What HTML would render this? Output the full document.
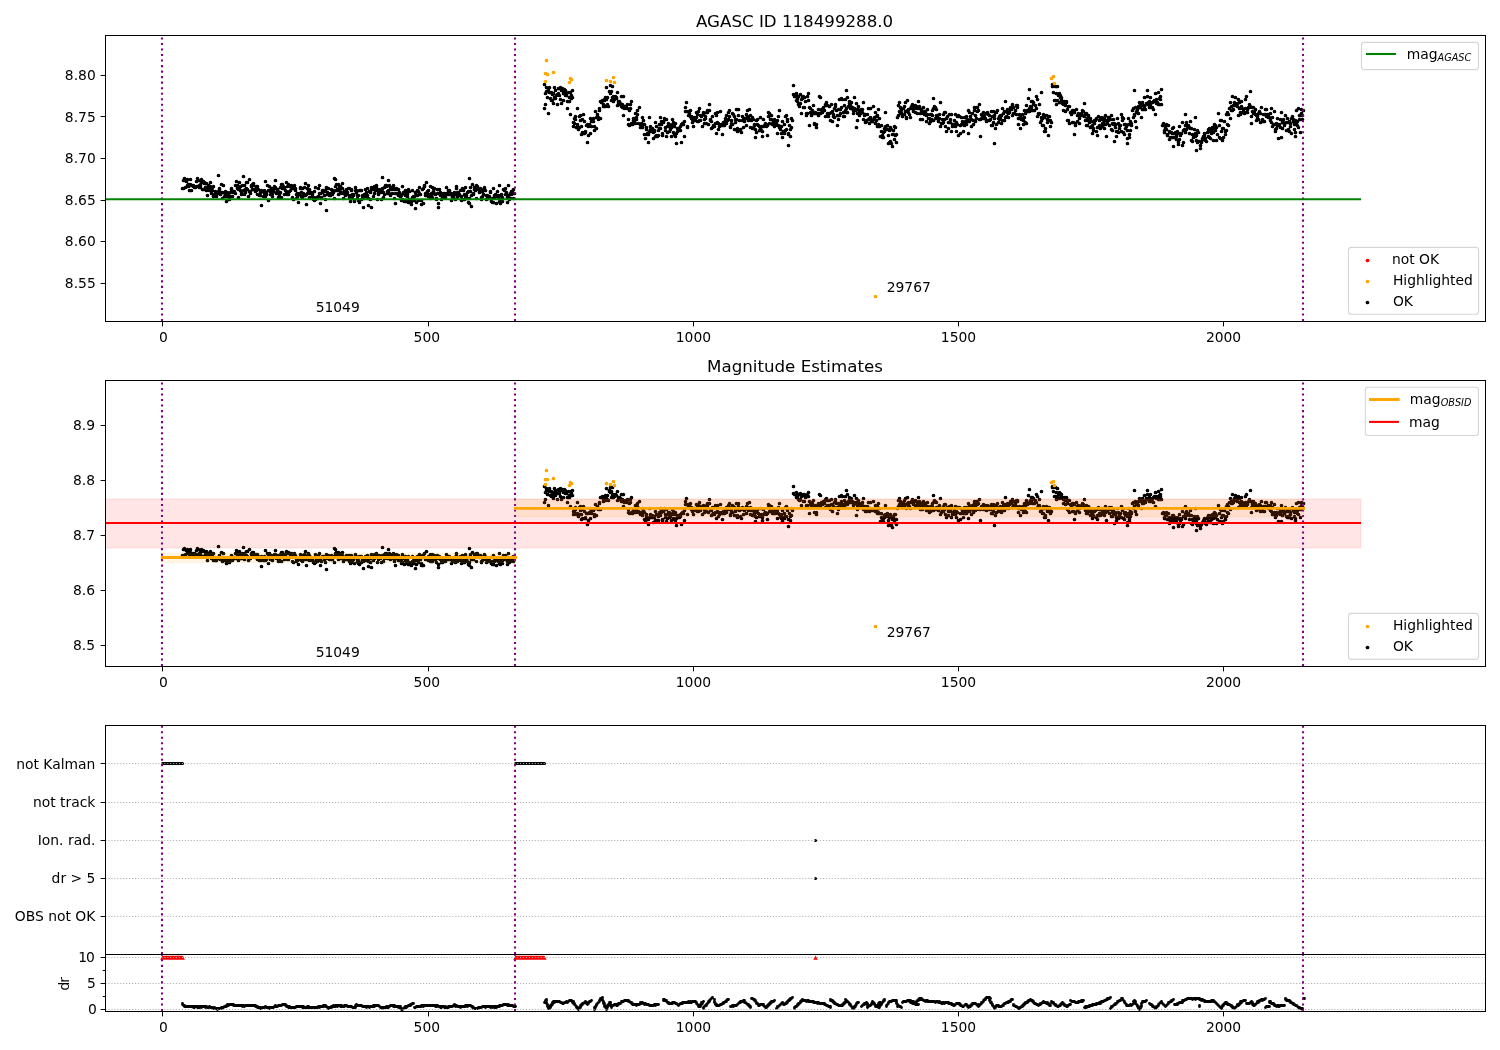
<!DOCTYPE html>
<html lang="en">
<head>
<meta charset="utf-8">
<title>AGASC ID 118499288.0</title>
<style>html,body{margin:0;padding:0;background:#fff;overflow:hidden}svg{display:block}</style>
</head>
<body>
<svg width="1500" height="1050" viewBox="0 0 1500 1050" font-family='"DejaVu Sans","Liberation Sans",sans-serif' font-size="13.889" fill="#000" role="img" aria-label="AGASC ID 118499288.0 magnitude estimates">
<rect width="1500" height="1050" fill="#fff"/>
<clipPath id="c1"><rect x="105.5" y="35.5" width="1380" height="286"/></clipPath>
<clipPath id="c2"><rect x="105.5" y="380.5" width="1380" height="286"/></clipPath>
<clipPath id="c3"><rect x="105.5" y="954.5" width="1380" height="57"/></clipPath>
<g clip-path="url(#c1)">
<path d="M182.5 188.5h0M183.5 188.5h0M183.5 180.5h0M184.5 179.5h0M184.5 178.5h0M185.5 187.5h0M186.5 181.5h0M187.5 179.5h0M187.5 185.5h0M188.5 186.5h0M188.5 184.5h0M189.5 190.5h0M189.5 184.5h0M190.5 184.5h0M190.5 179.5h0M191.5 185.5h0M191.5 190.5h0M192.5 185.5h0M193.5 185.5h0M193.5 186.5h0M194.5 186.5h0M194.5 187.5h0M195.5 187.5h0M196.5 181.5h0M196.5 186.5h0M197.5 178.5h0M197.5 186.5h0M198.5 180.5h0M199.5 185.5h0M199.5 187.5h0M200.5 184.5h0M200.5 186.5h0M201.5 179.5h0M201.5 182.5h0M202.5 189.5h0M202.5 181.5h0M203.5 189.5h0M203.5 181.5h0M204.5 183.5h0M204.5 182.5h0M205.5 187.5h0M206.5 190.5h0M206.5 183.5h0M207.5 187.5h0M207.5 195.5h0M208.5 187.5h0M208.5 185.5h0M209.5 190.5h0M209.5 188.5h0M210.5 186.5h0M210.5 182.5h0M211.5 193.5h0M212.5 187.5h0M212.5 190.5h0M213.5 186.5h0M213.5 196.5h0M214.5 194.5h0M214.5 195.5h0M215.5 191.5h0M215.5 194.5h0M216.5 196.5h0M217.5 193.5h0M218.5 192.5h0M218.5 191.5h0M219.5 189.5h0M219.5 188.5h0M220.5 194.5h0M220.5 192.5h0M221.5 184.5h0M221.5 192.5h0M222.5 198.5h0M222.5 192.5h0M223.5 185.5h0M224.5 192.5h0M224.5 196.5h0M225.5 194.5h0M225.5 191.5h0M226.5 201.5h0M227.5 192.5h0M227.5 196.5h0M228.5 194.5h0M228.5 196.5h0M229.5 199.5h0M230.5 196.5h0M230.5 192.5h0M231.5 189.5h0M231.5 188.5h0M232.5 191.5h0M232.5 196.5h0M233.5 192.5h0M233.5 191.5h0M234.5 192.5h0M234.5 191.5h0M235.5 193.5h0M235.5 185.5h0M236.5 181.5h0M237.5 188.5h0M237.5 185.5h0M238.5 197.5h0M238.5 189.5h0M239.5 188.5h0M239.5 182.5h0M240.5 190.5h0M240.5 186.5h0M241.5 194.5h0M241.5 192.5h0M242.5 185.5h0M243.5 190.5h0M243.5 176.5h0M244.5 185.5h0M244.5 194.5h0M245.5 192.5h0M245.5 189.5h0M246.5 188.5h0M246.5 182.5h0M247.5 182.5h0M247.5 189.5h0M248.5 196.5h0M249.5 179.5h0M249.5 191.5h0M250.5 191.5h0M250.5 193.5h0M251.5 185.5h0M251.5 186.5h0M252.5 189.5h0M252.5 184.5h0M253.5 183.5h0M253.5 185.5h0M254.5 189.5h0M255.5 191.5h0M255.5 189.5h0M256.5 190.5h0M256.5 186.5h0M257.5 186.5h0M257.5 194.5h0M258.5 189.5h0M259.5 194.5h0M259.5 195.5h0M260.5 195.5h0M260.5 192.5h0M261.5 190.5h0M262.5 191.5h0M263.5 196.5h0M263.5 191.5h0M264.5 193.5h0M264.5 190.5h0M265.5 196.5h0M265.5 181.5h0M266.5 192.5h0M266.5 194.5h0M267.5 185.5h0M268.5 200.5h0M268.5 190.5h0M269.5 190.5h0M269.5 186.5h0M270.5 194.5h0M270.5 191.5h0M271.5 188.5h0M271.5 191.5h0M272.5 193.5h0M272.5 196.5h0M273.5 191.5h0M274.5 186.5h0M274.5 188.5h0M275.5 180.5h0M275.5 187.5h0M276.5 193.5h0M276.5 192.5h0M277.5 190.5h0M277.5 189.5h0M278.5 197.5h0M278.5 191.5h0M279.5 194.5h0M280.5 192.5h0M280.5 187.5h0M281.5 197.5h0M281.5 184.5h0M282.5 184.5h0M282.5 188.5h0M283.5 186.5h0M283.5 187.5h0M284.5 187.5h0M284.5 194.5h0M285.5 190.5h0M286.5 191.5h0M286.5 182.5h0M287.5 186.5h0M287.5 194.5h0M288.5 184.5h0M288.5 194.5h0M289.5 185.5h0M289.5 191.5h0M290.5 186.5h0M290.5 190.5h0M291.5 185.5h0M291.5 188.5h0M292.5 197.5h0M293.5 188.5h0M293.5 199.5h0M294.5 188.5h0M294.5 185.5h0M295.5 190.5h0M295.5 188.5h0M296.5 198.5h0M296.5 194.5h0M297.5 196.5h0M297.5 193.5h0M298.5 202.5h0M299.5 194.5h0M299.5 193.5h0M300.5 188.5h0M300.5 187.5h0M301.5 192.5h0M301.5 196.5h0M302.5 197.5h0M302.5 188.5h0M303.5 194.5h0M303.5 193.5h0M304.5 187.5h0M305.5 195.5h0M305.5 183.5h0M306.5 194.5h0M306.5 204.5h0M307.5 188.5h0M307.5 193.5h0M308.5 185.5h0M308.5 190.5h0M309.5 197.5h0M309.5 189.5h0M310.5 193.5h0M311.5 192.5h0M312.5 194.5h0M312.5 196.5h0M313.5 199.5h0M313.5 197.5h0M314.5 191.5h0M314.5 200.5h0M315.5 199.5h0M315.5 187.5h0M316.5 197.5h0M317.5 198.5h0M318.5 196.5h0M318.5 188.5h0M319.5 193.5h0M319.5 185.5h0M320.5 193.5h0M320.5 203.5h0M321.5 197.5h0M321.5 198.5h0M322.5 192.5h0M322.5 190.5h0M323.5 190.5h0M324.5 195.5h0M324.5 191.5h0M325.5 191.5h0M325.5 199.5h0M326.5 187.5h0M326.5 188.5h0M327.5 192.5h0M327.5 194.5h0M328.5 193.5h0M328.5 188.5h0M329.5 195.5h0M330.5 193.5h0M330.5 195.5h0M331.5 189.5h0M331.5 194.5h0M332.5 194.5h0M332.5 190.5h0M333.5 192.5h0M333.5 190.5h0M334.5 198.5h0M334.5 178.5h0M335.5 186.5h0M336.5 184.5h0M336.5 190.5h0M337.5 189.5h0M337.5 190.5h0M338.5 194.5h0M338.5 184.5h0M339.5 187.5h0M339.5 190.5h0M340.5 186.5h0M340.5 193.5h0M341.5 192.5h0M342.5 188.5h0M342.5 183.5h0M343.5 198.5h0M343.5 193.5h0M344.5 193.5h0M344.5 191.5h0M345.5 191.5h0M345.5 195.5h0M346.5 191.5h0M346.5 189.5h0M347.5 194.5h0M347.5 192.5h0M348.5 188.5h0M349.5 188.5h0M349.5 197.5h0M350.5 195.5h0M350.5 201.5h0M351.5 190.5h0M351.5 189.5h0M352.5 194.5h0M352.5 198.5h0M353.5 195.5h0M353.5 194.5h0M354.5 201.5h0M355.5 190.5h0M355.5 187.5h0M356.5 190.5h0M356.5 192.5h0M357.5 195.5h0M357.5 198.5h0M358.5 195.5h0M358.5 200.5h0M359.5 190.5h0M359.5 202.5h0M360.5 190.5h0M361.5 199.5h0M361.5 190.5h0M362.5 196.5h0M362.5 195.5h0M363.5 197.5h0M363.5 198.5h0M364.5 194.5h0M365.5 196.5h0M365.5 189.5h0M366.5 192.5h0M367.5 188.5h0M367.5 195.5h0M368.5 205.5h0M368.5 198.5h0M369.5 191.5h0M370.5 199.5h0M370.5 192.5h0M371.5 187.5h0M371.5 189.5h0M372.5 189.5h0M373.5 196.5h0M374.5 193.5h0M374.5 186.5h0M375.5 190.5h0M375.5 187.5h0M376.5 187.5h0M376.5 185.5h0M377.5 199.5h0M377.5 190.5h0M378.5 193.5h0M378.5 194.5h0M379.5 189.5h0M380.5 192.5h0M381.5 191.5h0M381.5 199.5h0M382.5 191.5h0M382.5 188.5h0M383.5 192.5h0M383.5 197.5h0M384.5 194.5h0M384.5 187.5h0M385.5 185.5h0M386.5 185.5h0M386.5 186.5h0M387.5 191.5h0M387.5 193.5h0M388.5 180.5h0M388.5 190.5h0M389.5 185.5h0M389.5 193.5h0M390.5 195.5h0M390.5 187.5h0M391.5 189.5h0M392.5 187.5h0M392.5 193.5h0M393.5 185.5h0M393.5 187.5h0M394.5 189.5h0M394.5 198.5h0M395.5 203.5h0M395.5 193.5h0M396.5 188.5h0M396.5 193.5h0M397.5 189.5h0M398.5 195.5h0M398.5 189.5h0M399.5 192.5h0M399.5 194.5h0M400.5 196.5h0M400.5 194.5h0M401.5 200.5h0M401.5 195.5h0M402.5 186.5h0M402.5 199.5h0M403.5 193.5h0M403.5 192.5h0M404.5 201.5h0M405.5 190.5h0M405.5 195.5h0M406.5 192.5h0M406.5 201.5h0M407.5 194.5h0M407.5 196.5h0M408.5 189.5h0M408.5 202.5h0M409.5 191.5h0M409.5 199.5h0M410.5 200.5h0M411.5 201.5h0M411.5 204.5h0M412.5 190.5h0M412.5 197.5h0M413.5 196.5h0M413.5 197.5h0M414.5 200.5h0M414.5 196.5h0M415.5 192.5h0M415.5 195.5h0M416.5 202.5h0M417.5 190.5h0M417.5 195.5h0M418.5 191.5h0M418.5 200.5h0M419.5 187.5h0M419.5 193.5h0M420.5 194.5h0M421.5 204.5h0M421.5 200.5h0M422.5 189.5h0M423.5 203.5h0M423.5 188.5h0M424.5 185.5h0M424.5 186.5h0M425.5 193.5h0M425.5 195.5h0M426.5 182.5h0M426.5 194.5h0M427.5 191.5h0M427.5 195.5h0M428.5 190.5h0M428.5 196.5h0M429.5 194.5h0M430.5 186.5h0M430.5 198.5h0M431.5 193.5h0M431.5 195.5h0M432.5 197.5h0M432.5 187.5h0M433.5 191.5h0M433.5 188.5h0M434.5 188.5h0M434.5 193.5h0M435.5 194.5h0M436.5 198.5h0M436.5 199.5h0M437.5 193.5h0M437.5 189.5h0M438.5 207.5h0M438.5 203.5h0M439.5 193.5h0M439.5 189.5h0M440.5 192.5h0M440.5 195.5h0M441.5 199.5h0M442.5 198.5h0M442.5 196.5h0M443.5 193.5h0M443.5 195.5h0M444.5 193.5h0M444.5 195.5h0M445.5 194.5h0M445.5 197.5h0M446.5 187.5h0M446.5 193.5h0M447.5 194.5h0M448.5 190.5h0M448.5 194.5h0M449.5 190.5h0M449.5 192.5h0M450.5 194.5h0M451.5 193.5h0M451.5 200.5h0M452.5 196.5h0M452.5 197.5h0M453.5 196.5h0M454.5 193.5h0M454.5 192.5h0M455.5 199.5h0M455.5 194.5h0M456.5 188.5h0M456.5 186.5h0M457.5 197.5h0M457.5 192.5h0M458.5 195.5h0M458.5 193.5h0M459.5 194.5h0M459.5 195.5h0M460.5 190.5h0M461.5 196.5h0M461.5 200.5h0M462.5 199.5h0M462.5 188.5h0M463.5 190.5h0M463.5 189.5h0M464.5 194.5h0M464.5 199.5h0M465.5 196.5h0M465.5 187.5h0M466.5 195.5h0M467.5 198.5h0M467.5 192.5h0M468.5 202.5h0M468.5 191.5h0M469.5 198.5h0M469.5 203.5h0M470.5 187.5h0M470.5 191.5h0M471.5 195.5h0M471.5 206.5h0M472.5 184.5h0M473.5 194.5h0M473.5 193.5h0M474.5 189.5h0M474.5 187.5h0M475.5 189.5h0M475.5 190.5h0M476.5 185.5h0M476.5 198.5h0M477.5 186.5h0M477.5 189.5h0M478.5 188.5h0M479.5 189.5h0M479.5 192.5h0M480.5 188.5h0M480.5 191.5h0M481.5 199.5h0M481.5 197.5h0M482.5 191.5h0M482.5 196.5h0M483.5 189.5h0M483.5 194.5h0M484.5 187.5h0M484.5 188.5h0M485.5 190.5h0M486.5 199.5h0M486.5 195.5h0M487.5 197.5h0M487.5 195.5h0M488.5 196.5h0M489.5 198.5h0M489.5 196.5h0M490.5 191.5h0M490.5 192.5h0M491.5 201.5h0M492.5 202.5h0M492.5 198.5h0M493.5 188.5h0M493.5 202.5h0M494.5 197.5h0M494.5 195.5h0M495.5 196.5h0M495.5 194.5h0M496.5 203.5h0M497.5 191.5h0M498.5 195.5h0M498.5 197.5h0M499.5 201.5h0M499.5 185.5h0M500.5 199.5h0M500.5 203.5h0M501.5 194.5h0M501.5 195.5h0M502.5 201.5h0M502.5 197.5h0M503.5 189.5h0M504.5 190.5h0M505.5 188.5h0M505.5 194.5h0M506.5 192.5h0M506.5 194.5h0M507.5 197.5h0M507.5 202.5h0M508.5 195.5h0M508.5 185.5h0M509.5 199.5h0M510.5 193.5h0M510.5 198.5h0M511.5 191.5h0M511.5 194.5h0M512.5 192.5h0M513.5 198.5h0M513.5 189.5h0M514.5 193.5h0M544.5 84.5h0M544.5 108.5h0M545.5 93.5h0M545.5 104.5h0M546.5 91.5h0M546.5 87.5h0M547.5 97.5h0M548.5 113.5h0M548.5 90.5h0M549.5 87.5h0M549.5 92.5h0M550.5 98.5h0M551.5 100.5h0M551.5 92.5h0M552.5 94.5h0M552.5 100.5h0M553.5 103.5h0M553.5 93.5h0M554.5 97.5h0M554.5 87.5h0M555.5 90.5h0M555.5 98.5h0M556.5 95.5h0M557.5 94.5h0M557.5 104.5h0M558.5 93.5h0M558.5 88.5h0M559.5 95.5h0M560.5 87.5h0M560.5 99.5h0M561.5 103.5h0M561.5 90.5h0M562.5 88.5h0M563.5 93.5h0M563.5 100.5h0M564.5 90.5h0M564.5 89.5h0M565.5 90.5h0M565.5 95.5h0M566.5 95.5h0M566.5 93.5h0M567.5 101.5h0M567.5 108.5h0M568.5 92.5h0M569.5 101.5h0M569.5 97.5h0M570.5 114.5h0M570.5 92.5h0M571.5 95.5h0M571.5 98.5h0M572.5 90.5h0M572.5 97.5h0M573.5 122.5h0M573.5 126.5h0M574.5 118.5h0M574.5 123.5h0M575.5 119.5h0M575.5 116.5h0M576.5 127.5h0M577.5 108.5h0M577.5 124.5h0M578.5 129.5h0M578.5 127.5h0M579.5 116.5h0M579.5 127.5h0M580.5 115.5h0M580.5 120.5h0M581.5 134.5h0M581.5 126.5h0M582.5 132.5h0M582.5 119.5h0M583.5 114.5h0M584.5 121.5h0M584.5 133.5h0M585.5 131.5h0M585.5 132.5h0M586.5 125.5h0M587.5 124.5h0M587.5 142.5h0M588.5 126.5h0M588.5 135.5h0M589.5 124.5h0M590.5 133.5h0M590.5 118.5h0M591.5 121.5h0M591.5 126.5h0M592.5 120.5h0M593.5 121.5h0M593.5 118.5h0M594.5 130.5h0M594.5 126.5h0M595.5 111.5h0M596.5 128.5h0M596.5 117.5h0M597.5 116.5h0M597.5 114.5h0M598.5 119.5h0M598.5 117.5h0M599.5 108.5h0M599.5 110.5h0M600.5 101.5h0M600.5 118.5h0M601.5 102.5h0M602.5 100.5h0M603.5 104.5h0M603.5 106.5h0M604.5 99.5h0M604.5 100.5h0M605.5 97.5h0M605.5 106.5h0M606.5 99.5h0M606.5 87.5h0M607.5 104.5h0M607.5 97.5h0M608.5 106.5h0M609.5 91.5h0M610.5 93.5h0M610.5 85.5h0M611.5 91.5h0M611.5 100.5h0M612.5 97.5h0M612.5 86.5h0M613.5 101.5h0M613.5 96.5h0M614.5 99.5h0M615.5 96.5h0M615.5 97.5h0M616.5 97.5h0M616.5 98.5h0M617.5 92.5h0M617.5 105.5h0M618.5 101.5h0M618.5 103.5h0M619.5 104.5h0M619.5 101.5h0M620.5 103.5h0M621.5 96.5h0M621.5 106.5h0M622.5 107.5h0M622.5 104.5h0M623.5 96.5h0M623.5 115.5h0M624.5 106.5h0M624.5 108.5h0M625.5 107.5h0M625.5 106.5h0M626.5 107.5h0M627.5 104.5h0M627.5 108.5h0M628.5 124.5h0M628.5 119.5h0M629.5 125.5h0M629.5 110.5h0M630.5 104.5h0M630.5 108.5h0M631.5 101.5h0M631.5 123.5h0M632.5 124.5h0M633.5 118.5h0M633.5 120.5h0M634.5 121.5h0M634.5 118.5h0M635.5 123.5h0M635.5 113.5h0M636.5 117.5h0M636.5 119.5h0M637.5 110.5h0M637.5 114.5h0M638.5 123.5h0M639.5 107.5h0M640.5 127.5h0M640.5 124.5h0M641.5 127.5h0M641.5 123.5h0M642.5 127.5h0M642.5 117.5h0M643.5 124.5h0M643.5 120.5h0M644.5 124.5h0M644.5 134.5h0M645.5 138.5h0M646.5 129.5h0M646.5 127.5h0M647.5 134.5h0M647.5 133.5h0M648.5 142.5h0M648.5 134.5h0M649.5 117.5h0M649.5 131.5h0M650.5 129.5h0M650.5 126.5h0M651.5 131.5h0M652.5 131.5h0M652.5 128.5h0M653.5 138.5h0M653.5 132.5h0M654.5 131.5h0M654.5 130.5h0M655.5 136.5h0M655.5 122.5h0M656.5 135.5h0M656.5 126.5h0M657.5 136.5h0M658.5 135.5h0M658.5 130.5h0M659.5 124.5h0M659.5 128.5h0M660.5 128.5h0M660.5 117.5h0M661.5 124.5h0M661.5 121.5h0M662.5 133.5h0M662.5 135.5h0M663.5 121.5h0M663.5 122.5h0M664.5 118.5h0M665.5 127.5h0M665.5 130.5h0M666.5 136.5h0M666.5 119.5h0M667.5 132.5h0M667.5 126.5h0M668.5 123.5h0M668.5 126.5h0M669.5 124.5h0M669.5 131.5h0M670.5 129.5h0M671.5 136.5h0M671.5 127.5h0M672.5 119.5h0M672.5 124.5h0M673.5 132.5h0M673.5 122.5h0M674.5 126.5h0M674.5 134.5h0M675.5 123.5h0M675.5 136.5h0M676.5 133.5h0M677.5 128.5h0M677.5 131.5h0M678.5 128.5h0M679.5 129.5h0M679.5 130.5h0M680.5 130.5h0M680.5 126.5h0M681.5 124.5h0M681.5 142.5h0M682.5 123.5h0M683.5 124.5h0M684.5 121.5h0M684.5 136.5h0M685.5 107.5h0M685.5 111.5h0M686.5 102.5h0M686.5 111.5h0M687.5 127.5h0M687.5 126.5h0M688.5 111.5h0M688.5 115.5h0M689.5 113.5h0M690.5 110.5h0M690.5 116.5h0M691.5 116.5h0M691.5 118.5h0M692.5 119.5h0M692.5 122.5h0M693.5 126.5h0M693.5 117.5h0M694.5 117.5h0M694.5 118.5h0M695.5 120.5h0M696.5 117.5h0M696.5 112.5h0M697.5 114.5h0M697.5 121.5h0M698.5 111.5h0M698.5 121.5h0M699.5 108.5h0M699.5 120.5h0M700.5 120.5h0M700.5 115.5h0M701.5 116.5h0M701.5 115.5h0M702.5 126.5h0M703.5 114.5h0M703.5 112.5h0M704.5 119.5h0M704.5 123.5h0M705.5 118.5h0M705.5 116.5h0M706.5 123.5h0M706.5 112.5h0M707.5 112.5h0M707.5 110.5h0M708.5 124.5h0M709.5 104.5h0M709.5 110.5h0M710.5 119.5h0M710.5 120.5h0M711.5 128.5h0M711.5 121.5h0M712.5 116.5h0M712.5 127.5h0M713.5 125.5h0M713.5 126.5h0M714.5 126.5h0M715.5 123.5h0M715.5 113.5h0M716.5 115.5h0M716.5 133.5h0M717.5 122.5h0M717.5 112.5h0M718.5 123.5h0M718.5 129.5h0M719.5 126.5h0M719.5 124.5h0M720.5 111.5h0M721.5 125.5h0M721.5 124.5h0M722.5 134.5h0M722.5 125.5h0M723.5 124.5h0M723.5 122.5h0M724.5 123.5h0M724.5 125.5h0M725.5 120.5h0M725.5 118.5h0M726.5 115.5h0M726.5 123.5h0M727.5 120.5h0M728.5 119.5h0M728.5 112.5h0M729.5 116.5h0M729.5 110.5h0M730.5 126.5h0M730.5 127.5h0M731.5 123.5h0M731.5 120.5h0M732.5 124.5h0M732.5 113.5h0M733.5 114.5h0M734.5 129.5h0M734.5 116.5h0M735.5 122.5h0M735.5 119.5h0M736.5 109.5h0M736.5 119.5h0M737.5 128.5h0M737.5 131.5h0M738.5 109.5h0M738.5 115.5h0M739.5 120.5h0M740.5 129.5h0M740.5 130.5h0M741.5 132.5h0M742.5 120.5h0M742.5 116.5h0M743.5 127.5h0M743.5 119.5h0M744.5 121.5h0M744.5 118.5h0M745.5 118.5h0M746.5 125.5h0M746.5 114.5h0M747.5 110.5h0M747.5 116.5h0M748.5 120.5h0M748.5 118.5h0M749.5 119.5h0M749.5 109.5h0M750.5 115.5h0M750.5 127.5h0M751.5 120.5h0M752.5 117.5h0M752.5 128.5h0M753.5 119.5h0M753.5 127.5h0M754.5 124.5h0M754.5 125.5h0M755.5 129.5h0M755.5 137.5h0M756.5 132.5h0M756.5 120.5h0M757.5 119.5h0M757.5 124.5h0M758.5 125.5h0M759.5 130.5h0M759.5 126.5h0M760.5 128.5h0M760.5 117.5h0M761.5 126.5h0M761.5 130.5h0M762.5 136.5h0M762.5 131.5h0M763.5 126.5h0M763.5 119.5h0M764.5 125.5h0M765.5 125.5h0M765.5 123.5h0M766.5 124.5h0M766.5 126.5h0M767.5 125.5h0M767.5 135.5h0M768.5 116.5h0M768.5 112.5h0M769.5 123.5h0M769.5 113.5h0M770.5 119.5h0M771.5 119.5h0M771.5 115.5h0M772.5 124.5h0M772.5 123.5h0M773.5 121.5h0M773.5 124.5h0M774.5 126.5h0M774.5 119.5h0M775.5 125.5h0M775.5 123.5h0M776.5 122.5h0M777.5 120.5h0M777.5 133.5h0M778.5 125.5h0M778.5 116.5h0M779.5 127.5h0M779.5 110.5h0M780.5 126.5h0M780.5 129.5h0M781.5 133.5h0M781.5 126.5h0M782.5 121.5h0M782.5 137.5h0M783.5 131.5h0M784.5 133.5h0M784.5 124.5h0M785.5 130.5h0M785.5 116.5h0M786.5 129.5h0M786.5 115.5h0M787.5 121.5h0M787.5 119.5h0M788.5 134.5h0M788.5 133.5h0M789.5 125.5h0M790.5 136.5h0M790.5 129.5h0M791.5 118.5h0M791.5 127.5h0M792.5 120.5h0M793.5 94.5h0M793.5 85.5h0M794.5 96.5h0M794.5 95.5h0M795.5 96.5h0M796.5 93.5h0M796.5 100.5h0M797.5 101.5h0M797.5 98.5h0M798.5 96.5h0M798.5 104.5h0M799.5 106.5h0M800.5 94.5h0M800.5 103.5h0M801.5 99.5h0M801.5 113.5h0M802.5 98.5h0M802.5 97.5h0M803.5 96.5h0M803.5 107.5h0M804.5 97.5h0M804.5 107.5h0M805.5 101.5h0M806.5 113.5h0M806.5 115.5h0M807.5 113.5h0M807.5 96.5h0M808.5 100.5h0M808.5 93.5h0M809.5 125.5h0M809.5 107.5h0M810.5 108.5h0M810.5 112.5h0M811.5 115.5h0M812.5 110.5h0M812.5 113.5h0M813.5 113.5h0M813.5 105.5h0M814.5 124.5h0M814.5 123.5h0M815.5 113.5h0M815.5 112.5h0M816.5 124.5h0M816.5 127.5h0M817.5 113.5h0M818.5 115.5h0M818.5 109.5h0M819.5 113.5h0M819.5 96.5h0M820.5 97.5h0M820.5 113.5h0M821.5 109.5h0M821.5 112.5h0M822.5 109.5h0M822.5 112.5h0M823.5 110.5h0M823.5 107.5h0M824.5 110.5h0M825.5 104.5h0M825.5 116.5h0M826.5 102.5h0M826.5 105.5h0M827.5 113.5h0M827.5 105.5h0M828.5 113.5h0M828.5 116.5h0M829.5 113.5h0M829.5 106.5h0M830.5 120.5h0M831.5 112.5h0M831.5 104.5h0M832.5 121.5h0M832.5 111.5h0M833.5 114.5h0M833.5 116.5h0M834.5 108.5h0M834.5 117.5h0M835.5 104.5h0M835.5 106.5h0M836.5 110.5h0M837.5 125.5h0M837.5 115.5h0M838.5 119.5h0M838.5 109.5h0M839.5 115.5h0M839.5 99.5h0M840.5 109.5h0M840.5 113.5h0M841.5 107.5h0M841.5 98.5h0M842.5 99.5h0M843.5 112.5h0M843.5 116.5h0M844.5 105.5h0M844.5 116.5h0M845.5 99.5h0M845.5 110.5h0M846.5 108.5h0M846.5 112.5h0M847.5 97.5h0M847.5 112.5h0M848.5 106.5h0M849.5 101.5h0M849.5 103.5h0M850.5 105.5h0M850.5 108.5h0M851.5 102.5h0M852.5 108.5h0M852.5 107.5h0M853.5 110.5h0M853.5 113.5h0M854.5 97.5h0M854.5 108.5h0M855.5 110.5h0M856.5 109.5h0M856.5 103.5h0M857.5 113.5h0M857.5 120.5h0M858.5 109.5h0M858.5 106.5h0M859.5 115.5h0M859.5 111.5h0M860.5 112.5h0M860.5 113.5h0M861.5 109.5h0M862.5 112.5h0M862.5 109.5h0M863.5 102.5h0M863.5 119.5h0M864.5 115.5h0M864.5 114.5h0M865.5 122.5h0M865.5 114.5h0M866.5 121.5h0M866.5 120.5h0M867.5 114.5h0M868.5 108.5h0M868.5 119.5h0M869.5 118.5h0M869.5 123.5h0M870.5 108.5h0M870.5 117.5h0M871.5 119.5h0M871.5 120.5h0M872.5 120.5h0M872.5 121.5h0M873.5 106.5h0M874.5 119.5h0M874.5 117.5h0M875.5 112.5h0M875.5 123.5h0M876.5 120.5h0M876.5 116.5h0M877.5 115.5h0M877.5 126.5h0M878.5 109.5h0M878.5 124.5h0M879.5 118.5h0M879.5 126.5h0M880.5 136.5h0M881.5 131.5h0M881.5 125.5h0M882.5 135.5h0M882.5 137.5h0M883.5 132.5h0M883.5 137.5h0M884.5 128.5h0M884.5 131.5h0M885.5 127.5h0M885.5 126.5h0M886.5 129.5h0M887.5 125.5h0M887.5 129.5h0M888.5 143.5h0M888.5 135.5h0M889.5 130.5h0M889.5 142.5h0M890.5 141.5h0M890.5 127.5h0M891.5 129.5h0M891.5 143.5h0M892.5 134.5h0M893.5 134.5h0M893.5 130.5h0M894.5 126.5h0M894.5 139.5h0M895.5 127.5h0M895.5 135.5h0M896.5 142.5h0M896.5 134.5h0M897.5 117.5h0M898.5 115.5h0M898.5 105.5h0M899.5 102.5h0M899.5 111.5h0M900.5 107.5h0M900.5 113.5h0M901.5 109.5h0M901.5 112.5h0M902.5 114.5h0M902.5 116.5h0M903.5 108.5h0M904.5 114.5h0M904.5 106.5h0M905.5 102.5h0M905.5 111.5h0M906.5 117.5h0M906.5 118.5h0M907.5 110.5h0M907.5 100.5h0M908.5 112.5h0M908.5 109.5h0M909.5 114.5h0M910.5 117.5h0M910.5 108.5h0M911.5 106.5h0M911.5 108.5h0M912.5 106.5h0M912.5 104.5h0M913.5 111.5h0M913.5 105.5h0M914.5 108.5h0M914.5 107.5h0M915.5 105.5h0M915.5 112.5h0M916.5 106.5h0M917.5 108.5h0M917.5 113.5h0M918.5 108.5h0M918.5 101.5h0M919.5 106.5h0M919.5 107.5h0M920.5 113.5h0M920.5 119.5h0M921.5 111.5h0M921.5 109.5h0M922.5 119.5h0M923.5 107.5h0M923.5 113.5h0M924.5 114.5h0M924.5 111.5h0M925.5 111.5h0M925.5 113.5h0M926.5 121.5h0M926.5 115.5h0M927.5 109.5h0M927.5 114.5h0M928.5 118.5h0M929.5 123.5h0M929.5 118.5h0M930.5 114.5h0M930.5 121.5h0M931.5 119.5h0M931.5 114.5h0M932.5 110.5h0M932.5 115.5h0M933.5 120.5h0M933.5 108.5h0M934.5 106.5h0M935.5 118.5h0M935.5 107.5h0M936.5 109.5h0M936.5 115.5h0M937.5 115.5h0M937.5 118.5h0M938.5 118.5h0M938.5 121.5h0M939.5 118.5h0M939.5 114.5h0M940.5 102.5h0M940.5 126.5h0M941.5 123.5h0M942.5 123.5h0M942.5 119.5h0M943.5 114.5h0M943.5 122.5h0M944.5 119.5h0M944.5 112.5h0M945.5 126.5h0M945.5 112.5h0M946.5 118.5h0M946.5 131.5h0M947.5 116.5h0M948.5 122.5h0M948.5 128.5h0M949.5 122.5h0M949.5 114.5h0M950.5 119.5h0M950.5 122.5h0M951.5 114.5h0M951.5 131.5h0M952.5 124.5h0M952.5 126.5h0M953.5 124.5h0M954.5 124.5h0M954.5 120.5h0M955.5 114.5h0M955.5 126.5h0M956.5 122.5h0M956.5 131.5h0M957.5 116.5h0M957.5 124.5h0M958.5 135.5h0M958.5 115.5h0M959.5 116.5h0M960.5 125.5h0M960.5 133.5h0M961.5 117.5h0M961.5 124.5h0M962.5 123.5h0M962.5 121.5h0M963.5 123.5h0M963.5 131.5h0M964.5 125.5h0M964.5 117.5h0M965.5 121.5h0M966.5 124.5h0M966.5 116.5h0M967.5 119.5h0M967.5 121.5h0M968.5 110.5h0M968.5 133.5h0M969.5 112.5h0M969.5 121.5h0M970.5 119.5h0M970.5 116.5h0M971.5 126.5h0M971.5 119.5h0M972.5 113.5h0M973.5 124.5h0M973.5 120.5h0M974.5 110.5h0M974.5 107.5h0M975.5 121.5h0M975.5 115.5h0M976.5 107.5h0M976.5 118.5h0M977.5 107.5h0M977.5 111.5h0M978.5 110.5h0M979.5 104.5h0M979.5 119.5h0M980.5 136.5h0M980.5 119.5h0M981.5 118.5h0M981.5 114.5h0M982.5 115.5h0M982.5 116.5h0M983.5 118.5h0M983.5 112.5h0M984.5 115.5h0M985.5 113.5h0M985.5 118.5h0M986.5 120.5h0M986.5 121.5h0M987.5 112.5h0M988.5 120.5h0M988.5 114.5h0M989.5 115.5h0M989.5 120.5h0M990.5 119.5h0M991.5 125.5h0M991.5 111.5h0M992.5 125.5h0M992.5 116.5h0M993.5 122.5h0M993.5 111.5h0M994.5 118.5h0M994.5 115.5h0M995.5 128.5h0M995.5 112.5h0M996.5 124.5h0M996.5 112.5h0M997.5 110.5h0M998.5 118.5h0M998.5 122.5h0M999.5 116.5h0M999.5 119.5h0M1000.5 117.5h0M1000.5 115.5h0M1001.5 123.5h0M1001.5 115.5h0M1002.5 120.5h0M1002.5 108.5h0M1003.5 113.5h0M1004.5 120.5h0M1004.5 111.5h0M1005.5 101.5h0M1005.5 117.5h0M1006.5 116.5h0M1006.5 111.5h0M1007.5 112.5h0M1007.5 109.5h0M1008.5 113.5h0M1008.5 117.5h0M1009.5 112.5h0M1010.5 109.5h0M1010.5 107.5h0M1011.5 109.5h0M1011.5 107.5h0M1012.5 115.5h0M1012.5 104.5h0M1013.5 107.5h0M1013.5 113.5h0M1014.5 113.5h0M1015.5 110.5h0M1016.5 114.5h0M1016.5 105.5h0M1017.5 105.5h0M1017.5 107.5h0M1018.5 118.5h0M1018.5 124.5h0M1019.5 114.5h0M1020.5 116.5h0M1020.5 128.5h0M1021.5 119.5h0M1022.5 118.5h0M1022.5 114.5h0M1023.5 120.5h0M1023.5 124.5h0M1024.5 117.5h0M1024.5 110.5h0M1025.5 122.5h0M1025.5 113.5h0M1026.5 123.5h0M1026.5 105.5h0M1027.5 110.5h0M1027.5 111.5h0M1028.5 98.5h0M1029.5 108.5h0M1029.5 111.5h0M1030.5 106.5h0M1030.5 108.5h0M1031.5 107.5h0M1031.5 101.5h0M1032.5 110.5h0M1032.5 101.5h0M1033.5 104.5h0M1033.5 102.5h0M1034.5 110.5h0M1035.5 105.5h0M1036.5 96.5h0M1036.5 108.5h0M1037.5 116.5h0M1037.5 99.5h0M1038.5 114.5h0M1038.5 113.5h0M1039.5 104.5h0M1039.5 113.5h0M1040.5 122.5h0M1041.5 117.5h0M1041.5 120.5h0M1042.5 125.5h0M1042.5 118.5h0M1043.5 125.5h0M1043.5 114.5h0M1044.5 117.5h0M1044.5 131.5h0M1045.5 131.5h0M1045.5 128.5h0M1046.5 115.5h0M1047.5 122.5h0M1047.5 119.5h0M1048.5 135.5h0M1048.5 116.5h0M1049.5 116.5h0M1049.5 120.5h0M1050.5 126.5h0M1050.5 120.5h0M1051.5 122.5h0M1052.5 86.5h0M1052.5 84.5h0M1053.5 85.5h0M1053.5 92.5h0M1054.5 85.5h0M1054.5 100.5h0M1055.5 86.5h0M1055.5 100.5h0M1056.5 93.5h0M1056.5 104.5h0M1057.5 86.5h0M1057.5 100.5h0M1058.5 95.5h0M1059.5 93.5h0M1059.5 102.5h0M1060.5 97.5h0M1060.5 95.5h0M1061.5 99.5h0M1061.5 97.5h0M1062.5 101.5h0M1062.5 103.5h0M1063.5 110.5h0M1063.5 104.5h0M1064.5 101.5h0M1065.5 111.5h0M1065.5 105.5h0M1066.5 102.5h0M1066.5 101.5h0M1067.5 120.5h0M1067.5 109.5h0M1068.5 120.5h0M1068.5 106.5h0M1069.5 106.5h0M1069.5 123.5h0M1070.5 112.5h0M1071.5 113.5h0M1071.5 114.5h0M1072.5 110.5h0M1072.5 122.5h0M1073.5 110.5h0M1073.5 122.5h0M1074.5 112.5h0M1074.5 134.5h0M1075.5 123.5h0M1075.5 125.5h0M1076.5 109.5h0M1077.5 121.5h0M1077.5 115.5h0M1078.5 113.5h0M1079.5 123.5h0M1079.5 118.5h0M1080.5 115.5h0M1080.5 114.5h0M1081.5 113.5h0M1082.5 115.5h0M1082.5 110.5h0M1083.5 111.5h0M1084.5 103.5h0M1084.5 116.5h0M1085.5 120.5h0M1085.5 114.5h0M1086.5 125.5h0M1086.5 113.5h0M1087.5 118.5h0M1087.5 125.5h0M1088.5 120.5h0M1088.5 115.5h0M1089.5 122.5h0M1090.5 118.5h0M1090.5 127.5h0M1091.5 126.5h0M1091.5 121.5h0M1092.5 125.5h0M1092.5 133.5h0M1093.5 130.5h0M1093.5 128.5h0M1094.5 123.5h0M1094.5 120.5h0M1095.5 120.5h0M1096.5 131.5h0M1096.5 118.5h0M1097.5 127.5h0M1097.5 135.5h0M1098.5 116.5h0M1098.5 127.5h0M1099.5 120.5h0M1099.5 125.5h0M1100.5 128.5h0M1100.5 119.5h0M1101.5 117.5h0M1102.5 123.5h0M1102.5 126.5h0M1103.5 122.5h0M1103.5 119.5h0M1104.5 128.5h0M1104.5 117.5h0M1105.5 115.5h0M1105.5 124.5h0M1106.5 136.5h0M1106.5 120.5h0M1107.5 123.5h0M1108.5 117.5h0M1108.5 120.5h0M1109.5 117.5h0M1109.5 125.5h0M1110.5 119.5h0M1111.5 129.5h0M1111.5 115.5h0M1112.5 130.5h0M1112.5 123.5h0M1113.5 119.5h0M1113.5 124.5h0M1114.5 123.5h0M1115.5 127.5h0M1115.5 124.5h0M1116.5 136.5h0M1116.5 131.5h0M1117.5 131.5h0M1117.5 118.5h0M1118.5 123.5h0M1118.5 132.5h0M1119.5 128.5h0M1119.5 125.5h0M1120.5 125.5h0M1121.5 131.5h0M1121.5 114.5h0M1122.5 120.5h0M1122.5 117.5h0M1123.5 132.5h0M1123.5 118.5h0M1124.5 124.5h0M1124.5 134.5h0M1125.5 124.5h0M1125.5 128.5h0M1126.5 126.5h0M1127.5 130.5h0M1127.5 138.5h0M1128.5 118.5h0M1128.5 124.5h0M1129.5 134.5h0M1129.5 137.5h0M1130.5 121.5h0M1130.5 130.5h0M1131.5 125.5h0M1131.5 123.5h0M1132.5 110.5h0M1133.5 108.5h0M1133.5 117.5h0M1134.5 115.5h0M1134.5 114.5h0M1135.5 107.5h0M1135.5 121.5h0M1136.5 111.5h0M1136.5 127.5h0M1137.5 109.5h0M1137.5 112.5h0M1138.5 113.5h0M1138.5 106.5h0M1139.5 102.5h0M1140.5 104.5h0M1140.5 107.5h0M1141.5 103.5h0M1141.5 117.5h0M1142.5 102.5h0M1142.5 109.5h0M1143.5 109.5h0M1143.5 105.5h0M1144.5 97.5h0M1144.5 106.5h0M1145.5 109.5h0M1146.5 104.5h0M1146.5 103.5h0M1147.5 90.5h0M1147.5 96.5h0M1148.5 102.5h0M1148.5 104.5h0M1149.5 107.5h0M1149.5 101.5h0M1150.5 104.5h0M1150.5 97.5h0M1151.5 107.5h0M1152.5 107.5h0M1152.5 102.5h0M1153.5 109.5h0M1153.5 101.5h0M1154.5 100.5h0M1154.5 101.5h0M1155.5 114.5h0M1155.5 93.5h0M1156.5 103.5h0M1156.5 99.5h0M1157.5 102.5h0M1158.5 92.5h0M1158.5 104.5h0M1159.5 104.5h0M1159.5 98.5h0M1160.5 96.5h0M1160.5 99.5h0M1161.5 104.5h0M1161.5 89.5h0M1162.5 125.5h0M1163.5 125.5h0M1163.5 123.5h0M1164.5 130.5h0M1164.5 132.5h0M1165.5 128.5h0M1165.5 126.5h0M1166.5 129.5h0M1166.5 124.5h0M1167.5 134.5h0M1167.5 135.5h0M1168.5 125.5h0M1169.5 139.5h0M1169.5 131.5h0M1170.5 137.5h0M1170.5 132.5h0M1171.5 132.5h0M1171.5 137.5h0M1172.5 128.5h0M1172.5 133.5h0M1173.5 127.5h0M1173.5 137.5h0M1174.5 133.5h0M1175.5 133.5h0M1175.5 132.5h0M1176.5 139.5h0M1176.5 136.5h0M1177.5 133.5h0M1177.5 131.5h0M1178.5 144.5h0M1178.5 142.5h0M1179.5 126.5h0M1179.5 139.5h0M1180.5 135.5h0M1180.5 133.5h0M1181.5 133.5h0M1182.5 122.5h0M1182.5 145.5h0M1183.5 142.5h0M1183.5 130.5h0M1184.5 129.5h0M1184.5 130.5h0M1185.5 125.5h0M1185.5 132.5h0M1186.5 129.5h0M1186.5 122.5h0M1187.5 126.5h0M1188.5 125.5h0M1188.5 126.5h0M1189.5 127.5h0M1189.5 133.5h0M1190.5 128.5h0M1190.5 121.5h0M1191.5 140.5h0M1191.5 128.5h0M1192.5 141.5h0M1192.5 134.5h0M1193.5 137.5h0M1194.5 129.5h0M1194.5 136.5h0M1195.5 133.5h0M1195.5 136.5h0M1196.5 140.5h0M1196.5 135.5h0M1197.5 142.5h0M1197.5 130.5h0M1198.5 132.5h0M1198.5 141.5h0M1199.5 141.5h0M1200.5 145.5h0M1200.5 148.5h0M1201.5 141.5h0M1201.5 142.5h0M1202.5 139.5h0M1202.5 138.5h0M1203.5 136.5h0M1203.5 137.5h0M1204.5 133.5h0M1204.5 135.5h0M1205.5 140.5h0M1205.5 138.5h0M1206.5 141.5h0M1207.5 132.5h0M1208.5 136.5h0M1208.5 129.5h0M1209.5 128.5h0M1209.5 137.5h0M1210.5 131.5h0M1210.5 138.5h0M1211.5 133.5h0M1211.5 130.5h0M1212.5 127.5h0M1213.5 140.5h0M1213.5 132.5h0M1214.5 128.5h0M1214.5 124.5h0M1215.5 125.5h0M1215.5 130.5h0M1216.5 140.5h0M1216.5 127.5h0M1217.5 134.5h0M1218.5 113.5h0M1219.5 125.5h0M1219.5 137.5h0M1220.5 120.5h0M1220.5 138.5h0M1221.5 131.5h0M1221.5 120.5h0M1222.5 140.5h0M1222.5 128.5h0M1223.5 137.5h0M1223.5 128.5h0M1224.5 121.5h0M1225.5 131.5h0M1225.5 134.5h0M1226.5 130.5h0M1226.5 114.5h0M1227.5 124.5h0M1227.5 112.5h0M1228.5 114.5h0M1228.5 125.5h0M1229.5 108.5h0M1230.5 102.5h0M1230.5 118.5h0M1231.5 110.5h0M1231.5 106.5h0M1232.5 96.5h0M1232.5 110.5h0M1233.5 109.5h0M1233.5 105.5h0M1234.5 102.5h0M1234.5 104.5h0M1235.5 97.5h0M1235.5 105.5h0M1236.5 105.5h0M1237.5 103.5h0M1237.5 106.5h0M1238.5 99.5h0M1238.5 115.5h0M1239.5 108.5h0M1239.5 102.5h0M1240.5 114.5h0M1240.5 112.5h0M1241.5 106.5h0M1241.5 101.5h0M1242.5 108.5h0M1243.5 111.5h0M1243.5 112.5h0M1244.5 113.5h0M1245.5 99.5h0M1245.5 108.5h0M1246.5 96.5h0M1246.5 112.5h0M1247.5 109.5h0M1247.5 112.5h0M1248.5 107.5h0M1249.5 107.5h0M1249.5 104.5h0M1250.5 91.5h0M1250.5 106.5h0M1251.5 123.5h0M1251.5 116.5h0M1252.5 107.5h0M1252.5 111.5h0M1253.5 113.5h0M1253.5 107.5h0M1254.5 111.5h0M1255.5 114.5h0M1255.5 109.5h0M1256.5 115.5h0M1256.5 120.5h0M1257.5 118.5h0M1257.5 116.5h0M1258.5 113.5h0M1258.5 119.5h0M1259.5 112.5h0M1259.5 111.5h0M1260.5 122.5h0M1260.5 113.5h0M1261.5 107.5h0M1262.5 120.5h0M1262.5 119.5h0M1263.5 121.5h0M1263.5 114.5h0M1264.5 121.5h0M1264.5 114.5h0M1265.5 109.5h0M1265.5 114.5h0M1266.5 116.5h0M1266.5 109.5h0M1267.5 114.5h0M1268.5 117.5h0M1268.5 114.5h0M1269.5 117.5h0M1270.5 113.5h0M1270.5 120.5h0M1271.5 122.5h0M1271.5 108.5h0M1272.5 117.5h0M1272.5 126.5h0M1273.5 124.5h0M1274.5 111.5h0M1274.5 124.5h0M1275.5 131.5h0M1275.5 129.5h0M1276.5 128.5h0M1276.5 123.5h0M1277.5 125.5h0M1277.5 118.5h0M1278.5 124.5h0M1278.5 138.5h0M1279.5 124.5h0M1280.5 119.5h0M1280.5 127.5h0M1281.5 112.5h0M1281.5 137.5h0M1282.5 128.5h0M1282.5 122.5h0M1283.5 122.5h0M1283.5 119.5h0M1284.5 125.5h0M1284.5 124.5h0M1285.5 115.5h0M1286.5 130.5h0M1286.5 122.5h0M1287.5 118.5h0M1287.5 130.5h0M1288.5 129.5h0M1288.5 122.5h0M1289.5 121.5h0M1289.5 131.5h0M1290.5 123.5h0M1290.5 126.5h0M1291.5 133.5h0M1291.5 118.5h0M1292.5 116.5h0M1293.5 119.5h0M1293.5 121.5h0M1294.5 124.5h0M1294.5 129.5h0M1295.5 120.5h0M1295.5 132.5h0M1296.5 123.5h0M1296.5 110.5h0M1297.5 121.5h0M1297.5 125.5h0M1298.5 127.5h0M1299.5 115.5h0M1299.5 119.5h0M1300.5 132.5h0M1300.5 119.5h0M1301.5 113.5h0M1301.5 109.5h0M1302.5 115.5h0M1302.5 119.5h0M218.5 175.5h0M261.5 205.5h0M326.5 210.5h0M363.5 207.5h0M371.5 207.5h0M415.5 208.5h0M469.5 178.5h0M382.5 177.5h0M335.5 179.5h0M788.5 145.5h0M892.5 146.5h0M856.5 127.5h0M846.5 90.5h0M994.5 143.5h0M676.5 143.5h0M933.5 98.5h0M885.5 112.5h0M1196.5 150.5h0M1173.5 146.5h0M1114.5 141.5h0M1127.5 143.5h0M1134.5 90.5h0M1029.5 89.5h0M1041.5 92.5h0M1185.5 114.5h0M1195.5 117.5h0M1295.5 136.5h0M1298.5 108.5h0M1303.5 110.5h0" stroke="#000" stroke-width="3.7" stroke-linecap="round" fill="none"/>
<path d="M546.5 60.5h0M545.5 73.5h0M547.5 74.5h0M553.5 72.5h0M545.5 81.5h0M570.5 78.5h0M571.5 79.5h0M569.5 82.5h0M606.5 80.5h0M610.5 81.5h0M613.5 77.5h0M614.5 82.5h0M1051.5 78.5h0M1053.5 76.5h0M1054.5 83.5h0M875.5 296.5h0" stroke="#ffa500" stroke-width="3.7" stroke-linecap="round" fill="none"/>
<path d="M162 321.05V35.5" stroke="#800080" stroke-width="2.08" fill="none" stroke-dasharray="2.08 3.44"/>
<path d="M515 321.05V35.5" stroke="#800080" stroke-width="2.08" fill="none" stroke-dasharray="2.08 3.44"/>
<path d="M1303 321.05V35.5" stroke="#800080" stroke-width="2.08" fill="none" stroke-dasharray="2.08 3.44"/>
<path d="M105.5 199.3H1361" stroke="#008000" stroke-width="2.08" fill="none"/>
</g>
<text x="337.7" y="312" text-anchor="middle">51049</text>
<text x="908.8" y="292" text-anchor="middle">29767</text>
<rect x="105.5" y="35.5" width="1380" height="286" fill="none" stroke="#000" stroke-width="1"/>
<path d="M162.5 321.5v4.9M428.5 321.5v4.9M693.5 321.5v4.9M958.5 321.5v4.9M1223.5 321.5v4.9" stroke="#000" stroke-width="1" fill="none"/>
<text x="163.3" y="342" text-anchor="middle">0</text>
<text x="426.85" y="342" text-anchor="middle">500</text>
<text x="693.4" y="342" text-anchor="middle">1000</text>
<text x="958.5" y="342" text-anchor="middle">1500</text>
<text x="1223.55" y="342" text-anchor="middle">2000</text>
<path d="M105.5 283.5h-4.9M105.5 241.5h-4.9M105.5 200.5h-4.9M105.5 158.5h-4.9M105.5 116.5h-4.9M105.5 75.5h-4.9" stroke="#000" stroke-width="1" fill="none"/>
<text x="95.78" y="288" text-anchor="end">8.55</text>
<text x="95.78" y="246" text-anchor="end">8.60</text>
<text x="95.78" y="205" text-anchor="end">8.65</text>
<text x="95.78" y="163" text-anchor="end">8.70</text>
<text x="95.78" y="122" text-anchor="end">8.75</text>
<text x="95.78" y="80" text-anchor="end">8.80</text>
<text x="794.6" y="27" text-anchor="middle" font-size="16.67">AGASC ID 118499288.0</text>
<rect x="1348.5" y="247.4" width="130.1" height="66.9" rx="2.8" ry="2.8" fill="#fff" fill-opacity="0.8" stroke="#ccc" stroke-opacity="0.8" stroke-width="1.1"/>
<path d="M1367.5 260.5h0" stroke="#f00" stroke-width="3.7" stroke-linecap="round" fill="none"/>
<text x="1391.9" y="264">not OK</text>
<path d="M1367.5 281.5h0" stroke="#ffa500" stroke-width="3.7" stroke-linecap="round" fill="none"/>
<text x="1392.93" y="285">Highlighted</text>
<path d="M1367.5 302.5h0" stroke="#000" stroke-width="3.7" stroke-linecap="round" fill="none"/>
<text x="1392.93" y="306">OK</text>
<rect x="1361.5" y="42.4" width="117" height="27.2" rx="2.8" ry="2.8" fill="#fff" fill-opacity="0.8" stroke="#ccc" stroke-opacity="0.8" stroke-width="1.1"/>
<path d="M1367.04 54H1394.96" stroke="#008000" stroke-width="2.08" fill="none" stroke-linecap="square"/>
<text x="1406.7" y="59">mag<tspan font-size="9.72" font-style="oblique" dy="1.6">AGASC</tspan></text>
<g clip-path="url(#c2)">
<path d="M182.5 555.5h0M183.5 555.5h0M183.5 549.5h0M184.5 549.5h0M184.5 548.5h0M185.5 554.5h0M186.5 550.5h0M187.5 549.5h0M187.5 553.5h0M188.5 553.5h0M188.5 552.5h0M189.5 556.5h0M189.5 552.5h0M190.5 552.5h0M190.5 549.5h0M191.5 553.5h0M191.5 556.5h0M192.5 553.5h0M193.5 553.5h0M193.5 554.5h0M194.5 553.5h0M194.5 554.5h0M195.5 554.5h0M196.5 550.5h0M196.5 554.5h0M197.5 548.5h0M197.5 554.5h0M198.5 549.5h0M199.5 553.5h0M199.5 554.5h0M200.5 552.5h0M200.5 554.5h0M201.5 549.5h0M201.5 551.5h0M202.5 556.5h0M202.5 550.5h0M203.5 556.5h0M203.5 550.5h0M204.5 551.5h0M205.5 554.5h0M206.5 556.5h0M206.5 551.5h0M207.5 554.5h0M207.5 560.5h0M208.5 554.5h0M208.5 553.5h0M209.5 556.5h0M209.5 555.5h0M210.5 554.5h0M210.5 551.5h0M211.5 558.5h0M212.5 554.5h0M212.5 556.5h0M213.5 553.5h0M213.5 560.5h0M214.5 559.5h0M214.5 560.5h0M215.5 557.5h0M215.5 558.5h0M216.5 560.5h0M217.5 558.5h0M218.5 557.5h0M219.5 556.5h0M219.5 555.5h0M220.5 559.5h0M220.5 557.5h0M221.5 552.5h0M221.5 558.5h0M222.5 561.5h0M222.5 557.5h0M223.5 553.5h0M224.5 558.5h0M224.5 560.5h0M225.5 559.5h0M225.5 557.5h0M226.5 563.5h0M227.5 558.5h0M227.5 560.5h0M228.5 559.5h0M228.5 560.5h0M229.5 562.5h0M230.5 560.5h0M230.5 558.5h0M231.5 555.5h0M232.5 557.5h0M232.5 560.5h0M233.5 558.5h0M233.5 557.5h0M234.5 557.5h0M235.5 558.5h0M235.5 553.5h0M236.5 550.5h0M237.5 555.5h0M237.5 552.5h0M238.5 560.5h0M238.5 555.5h0M239.5 555.5h0M239.5 551.5h0M240.5 556.5h0M240.5 553.5h0M241.5 558.5h0M242.5 553.5h0M243.5 556.5h0M243.5 547.5h0M244.5 553.5h0M244.5 559.5h0M245.5 557.5h0M245.5 555.5h0M246.5 555.5h0M246.5 551.5h0M247.5 551.5h0M247.5 556.5h0M248.5 560.5h0M249.5 549.5h0M249.5 557.5h0M250.5 557.5h0M250.5 558.5h0M251.5 553.5h0M251.5 554.5h0M252.5 555.5h0M252.5 552.5h0M253.5 552.5h0M253.5 553.5h0M254.5 555.5h0M255.5 557.5h0M255.5 555.5h0M256.5 556.5h0M256.5 554.5h0M257.5 554.5h0M257.5 559.5h0M258.5 556.5h0M259.5 559.5h0M259.5 560.5h0M260.5 560.5h0M260.5 557.5h0M261.5 556.5h0M262.5 557.5h0M263.5 560.5h0M263.5 557.5h0M264.5 558.5h0M264.5 556.5h0M265.5 560.5h0M265.5 550.5h0M266.5 557.5h0M266.5 559.5h0M267.5 553.5h0M268.5 563.5h0M268.5 556.5h0M269.5 556.5h0M269.5 553.5h0M270.5 559.5h0M270.5 557.5h0M271.5 555.5h0M271.5 557.5h0M272.5 558.5h0M272.5 560.5h0M273.5 557.5h0M274.5 554.5h0M274.5 555.5h0M275.5 550.5h0M275.5 554.5h0M276.5 558.5h0M277.5 556.5h0M277.5 555.5h0M278.5 561.5h0M278.5 557.5h0M279.5 559.5h0M280.5 557.5h0M280.5 554.5h0M281.5 561.5h0M281.5 552.5h0M282.5 552.5h0M282.5 555.5h0M283.5 554.5h0M284.5 554.5h0M284.5 559.5h0M285.5 556.5h0M286.5 557.5h0M286.5 551.5h0M287.5 553.5h0M287.5 559.5h0M288.5 552.5h0M288.5 559.5h0M289.5 553.5h0M289.5 557.5h0M290.5 553.5h0M290.5 556.5h0M291.5 553.5h0M291.5 555.5h0M292.5 561.5h0M293.5 555.5h0M293.5 562.5h0M294.5 555.5h0M294.5 553.5h0M295.5 556.5h0M295.5 555.5h0M296.5 561.5h0M296.5 559.5h0M297.5 560.5h0M297.5 558.5h0M298.5 564.5h0M299.5 559.5h0M299.5 558.5h0M300.5 554.5h0M301.5 558.5h0M301.5 560.5h0M302.5 561.5h0M302.5 555.5h0M303.5 559.5h0M303.5 558.5h0M304.5 554.5h0M305.5 559.5h0M305.5 551.5h0M306.5 559.5h0M306.5 565.5h0M307.5 555.5h0M307.5 558.5h0M308.5 553.5h0M308.5 556.5h0M309.5 560.5h0M309.5 555.5h0M310.5 558.5h0M311.5 557.5h0M312.5 559.5h0M312.5 560.5h0M313.5 562.5h0M313.5 561.5h0M314.5 557.5h0M314.5 563.5h0M315.5 562.5h0M315.5 554.5h0M316.5 560.5h0M316.5 561.5h0M317.5 561.5h0M318.5 560.5h0M318.5 555.5h0M319.5 558.5h0M319.5 553.5h0M320.5 558.5h0M320.5 565.5h0M321.5 561.5h0M322.5 557.5h0M322.5 556.5h0M323.5 556.5h0M324.5 559.5h0M324.5 557.5h0M325.5 557.5h0M325.5 562.5h0M326.5 554.5h0M326.5 555.5h0M327.5 557.5h0M327.5 558.5h0M328.5 558.5h0M328.5 555.5h0M329.5 559.5h0M330.5 558.5h0M330.5 559.5h0M331.5 555.5h0M331.5 559.5h0M332.5 559.5h0M332.5 556.5h0M333.5 557.5h0M333.5 556.5h0M334.5 562.5h0M334.5 548.5h0M335.5 553.5h0M336.5 552.5h0M336.5 556.5h0M337.5 555.5h0M337.5 556.5h0M338.5 559.5h0M338.5 552.5h0M339.5 554.5h0M339.5 556.5h0M340.5 553.5h0M340.5 558.5h0M341.5 558.5h0M342.5 555.5h0M342.5 552.5h0M343.5 561.5h0M343.5 558.5h0M344.5 558.5h0M344.5 557.5h0M345.5 557.5h0M345.5 559.5h0M346.5 557.5h0M346.5 555.5h0M347.5 559.5h0M347.5 557.5h0M348.5 555.5h0M349.5 555.5h0M349.5 561.5h0M350.5 559.5h0M350.5 563.5h0M351.5 556.5h0M351.5 555.5h0M352.5 559.5h0M352.5 562.5h0M353.5 559.5h0M354.5 563.5h0M355.5 556.5h0M355.5 554.5h0M356.5 556.5h0M356.5 557.5h0M357.5 559.5h0M357.5 561.5h0M358.5 560.5h0M358.5 563.5h0M359.5 556.5h0M359.5 564.5h0M360.5 556.5h0M361.5 562.5h0M361.5 556.5h0M362.5 560.5h0M362.5 559.5h0M363.5 561.5h0M364.5 559.5h0M365.5 560.5h0M365.5 556.5h0M366.5 557.5h0M367.5 555.5h0M367.5 559.5h0M368.5 566.5h0M368.5 561.5h0M369.5 557.5h0M370.5 562.5h0M370.5 558.5h0M371.5 554.5h0M371.5 556.5h0M372.5 556.5h0M372.5 555.5h0M373.5 560.5h0M374.5 558.5h0M374.5 554.5h0M375.5 556.5h0M375.5 554.5h0M376.5 554.5h0M376.5 553.5h0M377.5 562.5h0M377.5 556.5h0M378.5 558.5h0M378.5 559.5h0M379.5 555.5h0M380.5 558.5h0M381.5 557.5h0M381.5 562.5h0M382.5 557.5h0M382.5 555.5h0M383.5 557.5h0M383.5 561.5h0M384.5 558.5h0M384.5 554.5h0M385.5 553.5h0M386.5 553.5h0M386.5 554.5h0M387.5 557.5h0M387.5 558.5h0M388.5 549.5h0M388.5 556.5h0M389.5 553.5h0M389.5 558.5h0M390.5 559.5h0M390.5 554.5h0M391.5 555.5h0M392.5 554.5h0M392.5 558.5h0M393.5 553.5h0M393.5 554.5h0M394.5 556.5h0M394.5 561.5h0M395.5 565.5h0M395.5 558.5h0M396.5 554.5h0M396.5 558.5h0M397.5 556.5h0M398.5 560.5h0M398.5 555.5h0M399.5 558.5h0M399.5 559.5h0M400.5 560.5h0M400.5 559.5h0M401.5 563.5h0M401.5 559.5h0M402.5 554.5h0M402.5 562.5h0M403.5 558.5h0M403.5 557.5h0M404.5 564.5h0M405.5 556.5h0M405.5 560.5h0M406.5 557.5h0M406.5 563.5h0M407.5 558.5h0M407.5 560.5h0M408.5 556.5h0M408.5 564.5h0M409.5 557.5h0M409.5 562.5h0M410.5 563.5h0M411.5 563.5h0M411.5 565.5h0M412.5 556.5h0M412.5 561.5h0M413.5 560.5h0M413.5 561.5h0M414.5 563.5h0M414.5 560.5h0M415.5 557.5h0M415.5 559.5h0M416.5 564.5h0M417.5 556.5h0M417.5 560.5h0M418.5 556.5h0M418.5 562.5h0M419.5 554.5h0M419.5 558.5h0M420.5 558.5h0M420.5 559.5h0M421.5 565.5h0M421.5 563.5h0M422.5 555.5h0M423.5 565.5h0M423.5 555.5h0M424.5 553.5h0M425.5 558.5h0M425.5 559.5h0M426.5 551.5h0M426.5 559.5h0M427.5 557.5h0M427.5 559.5h0M428.5 556.5h0M428.5 560.5h0M429.5 559.5h0M430.5 554.5h0M430.5 561.5h0M431.5 558.5h0M431.5 559.5h0M432.5 561.5h0M432.5 554.5h0M433.5 557.5h0M433.5 555.5h0M434.5 555.5h0M434.5 558.5h0M435.5 559.5h0M436.5 562.5h0M437.5 558.5h0M437.5 555.5h0M438.5 567.5h0M438.5 564.5h0M439.5 558.5h0M439.5 556.5h0M440.5 557.5h0M440.5 559.5h0M441.5 562.5h0M442.5 562.5h0M442.5 560.5h0M443.5 558.5h0M443.5 559.5h0M444.5 558.5h0M444.5 559.5h0M445.5 559.5h0M445.5 561.5h0M446.5 554.5h0M446.5 558.5h0M447.5 559.5h0M448.5 556.5h0M448.5 559.5h0M449.5 556.5h0M449.5 558.5h0M450.5 559.5h0M451.5 558.5h0M451.5 563.5h0M452.5 560.5h0M452.5 561.5h0M453.5 560.5h0M454.5 558.5h0M454.5 557.5h0M455.5 562.5h0M455.5 559.5h0M456.5 555.5h0M456.5 553.5h0M457.5 561.5h0M457.5 558.5h0M458.5 560.5h0M458.5 558.5h0M459.5 559.5h0M460.5 556.5h0M461.5 560.5h0M461.5 563.5h0M462.5 562.5h0M462.5 555.5h0M463.5 556.5h0M464.5 559.5h0M464.5 562.5h0M465.5 560.5h0M465.5 554.5h0M466.5 559.5h0M467.5 561.5h0M467.5 557.5h0M468.5 564.5h0M468.5 557.5h0M469.5 562.5h0M469.5 565.5h0M470.5 554.5h0M470.5 557.5h0M471.5 559.5h0M471.5 567.5h0M472.5 552.5h0M473.5 559.5h0M473.5 558.5h0M474.5 556.5h0M474.5 554.5h0M475.5 555.5h0M475.5 556.5h0M476.5 553.5h0M476.5 561.5h0M477.5 553.5h0M477.5 556.5h0M478.5 555.5h0M479.5 556.5h0M479.5 557.5h0M480.5 555.5h0M480.5 556.5h0M481.5 562.5h0M481.5 561.5h0M482.5 557.5h0M482.5 560.5h0M483.5 556.5h0M483.5 559.5h0M484.5 554.5h0M484.5 555.5h0M485.5 556.5h0M486.5 562.5h0M486.5 559.5h0M487.5 560.5h0M487.5 559.5h0M488.5 560.5h0M489.5 561.5h0M489.5 560.5h0M490.5 557.5h0M491.5 563.5h0M492.5 564.5h0M492.5 561.5h0M493.5 555.5h0M493.5 564.5h0M494.5 561.5h0M494.5 560.5h0M495.5 560.5h0M495.5 559.5h0M496.5 565.5h0M497.5 557.5h0M498.5 559.5h0M498.5 561.5h0M499.5 563.5h0M499.5 553.5h0M500.5 562.5h0M500.5 564.5h0M501.5 559.5h0M502.5 563.5h0M502.5 560.5h0M503.5 555.5h0M504.5 556.5h0M505.5 555.5h0M505.5 559.5h0M506.5 557.5h0M506.5 559.5h0M507.5 561.5h0M507.5 564.5h0M508.5 559.5h0M508.5 553.5h0M509.5 562.5h0M510.5 558.5h0M510.5 561.5h0M511.5 557.5h0M511.5 559.5h0M512.5 557.5h0M512.5 558.5h0M513.5 561.5h0M513.5 556.5h0M514.5 558.5h0M544.5 486.5h0M544.5 502.5h0M545.5 492.5h0M545.5 499.5h0M546.5 490.5h0M546.5 488.5h0M547.5 494.5h0M548.5 505.5h0M548.5 490.5h0M549.5 488.5h0M549.5 491.5h0M550.5 495.5h0M551.5 496.5h0M551.5 491.5h0M552.5 493.5h0M552.5 496.5h0M553.5 498.5h0M553.5 492.5h0M554.5 494.5h0M554.5 488.5h0M555.5 490.5h0M555.5 495.5h0M556.5 493.5h0M557.5 493.5h0M557.5 499.5h0M558.5 492.5h0M558.5 489.5h0M559.5 493.5h0M560.5 488.5h0M560.5 496.5h0M561.5 499.5h0M561.5 490.5h0M562.5 489.5h0M563.5 492.5h0M563.5 497.5h0M564.5 490.5h0M564.5 489.5h0M565.5 490.5h0M565.5 493.5h0M566.5 493.5h0M566.5 492.5h0M567.5 497.5h0M567.5 502.5h0M568.5 491.5h0M569.5 497.5h0M569.5 495.5h0M570.5 506.5h0M570.5 491.5h0M571.5 493.5h0M571.5 495.5h0M572.5 490.5h0M572.5 495.5h0M573.5 511.5h0M573.5 514.5h0M574.5 508.5h0M574.5 511.5h0M575.5 509.5h0M575.5 507.5h0M576.5 514.5h0M577.5 502.5h0M577.5 513.5h0M578.5 516.5h0M578.5 515.5h0M579.5 507.5h0M579.5 514.5h0M580.5 506.5h0M580.5 510.5h0M581.5 519.5h0M581.5 514.5h0M582.5 518.5h0M582.5 509.5h0M583.5 506.5h0M584.5 511.5h0M584.5 518.5h0M585.5 517.5h0M585.5 518.5h0M586.5 513.5h0M587.5 513.5h0M587.5 524.5h0M588.5 513.5h0M588.5 520.5h0M589.5 512.5h0M590.5 518.5h0M590.5 508.5h0M591.5 510.5h0M591.5 513.5h0M592.5 510.5h0M593.5 510.5h0M593.5 509.5h0M594.5 516.5h0M594.5 514.5h0M595.5 504.5h0M596.5 515.5h0M596.5 508.5h0M597.5 507.5h0M597.5 506.5h0M598.5 509.5h0M598.5 508.5h0M599.5 502.5h0M599.5 503.5h0M600.5 497.5h0M600.5 509.5h0M601.5 497.5h0M602.5 497.5h0M602.5 496.5h0M603.5 499.5h0M603.5 501.5h0M604.5 496.5h0M604.5 497.5h0M605.5 495.5h0M605.5 500.5h0M606.5 496.5h0M606.5 488.5h0M607.5 499.5h0M607.5 495.5h0M608.5 500.5h0M609.5 490.5h0M609.5 491.5h0M610.5 492.5h0M610.5 487.5h0M611.5 491.5h0M611.5 497.5h0M612.5 495.5h0M612.5 487.5h0M613.5 497.5h0M613.5 494.5h0M614.5 496.5h0M615.5 494.5h0M615.5 495.5h0M616.5 495.5h0M617.5 491.5h0M617.5 500.5h0M618.5 497.5h0M618.5 499.5h0M619.5 499.5h0M619.5 497.5h0M620.5 498.5h0M621.5 494.5h0M621.5 501.5h0M622.5 501.5h0M622.5 499.5h0M623.5 494.5h0M623.5 506.5h0M624.5 501.5h0M624.5 502.5h0M625.5 501.5h0M625.5 500.5h0M626.5 501.5h0M627.5 499.5h0M627.5 502.5h0M628.5 512.5h0M628.5 509.5h0M629.5 513.5h0M629.5 503.5h0M630.5 499.5h0M630.5 502.5h0M631.5 497.5h0M631.5 512.5h0M632.5 513.5h0M633.5 509.5h0M633.5 510.5h0M634.5 510.5h0M634.5 508.5h0M635.5 512.5h0M635.5 505.5h0M636.5 508.5h0M636.5 509.5h0M637.5 503.5h0M637.5 506.5h0M638.5 512.5h0M638.5 511.5h0M639.5 501.5h0M640.5 514.5h0M640.5 512.5h0M641.5 514.5h0M641.5 512.5h0M642.5 515.5h0M642.5 508.5h0M643.5 512.5h0M643.5 510.5h0M644.5 512.5h0M644.5 519.5h0M645.5 521.5h0M646.5 516.5h0M646.5 514.5h0M647.5 519.5h0M647.5 518.5h0M648.5 524.5h0M648.5 519.5h0M649.5 508.5h0M649.5 517.5h0M650.5 516.5h0M650.5 514.5h0M651.5 517.5h0M652.5 517.5h0M652.5 515.5h0M653.5 522.5h0M653.5 517.5h0M654.5 517.5h0M654.5 516.5h0M655.5 520.5h0M655.5 511.5h0M656.5 520.5h0M656.5 514.5h0M657.5 520.5h0M658.5 520.5h0M658.5 516.5h0M659.5 512.5h0M659.5 515.5h0M660.5 515.5h0M660.5 508.5h0M661.5 512.5h0M661.5 511.5h0M662.5 519.5h0M662.5 520.5h0M663.5 510.5h0M663.5 511.5h0M664.5 508.5h0M665.5 514.5h0M665.5 517.5h0M666.5 521.5h0M666.5 509.5h0M667.5 518.5h0M667.5 514.5h0M668.5 512.5h0M668.5 513.5h0M669.5 512.5h0M669.5 517.5h0M670.5 516.5h0M671.5 520.5h0M671.5 514.5h0M672.5 509.5h0M672.5 513.5h0M673.5 518.5h0M673.5 511.5h0M674.5 514.5h0M674.5 519.5h0M675.5 512.5h0M675.5 520.5h0M676.5 518.5h0M677.5 515.5h0M677.5 517.5h0M678.5 515.5h0M679.5 515.5h0M679.5 517.5h0M680.5 516.5h0M680.5 514.5h0M681.5 513.5h0M681.5 524.5h0M682.5 512.5h0M683.5 513.5h0M684.5 510.5h0M684.5 520.5h0M685.5 501.5h0M685.5 504.5h0M686.5 498.5h0M686.5 504.5h0M687.5 514.5h0M688.5 504.5h0M688.5 507.5h0M689.5 505.5h0M690.5 503.5h0M690.5 507.5h0M691.5 507.5h0M691.5 509.5h0M692.5 509.5h0M692.5 511.5h0M693.5 514.5h0M693.5 508.5h0M694.5 508.5h0M695.5 510.5h0M696.5 508.5h0M696.5 504.5h0M697.5 506.5h0M697.5 511.5h0M698.5 504.5h0M698.5 511.5h0M699.5 502.5h0M699.5 510.5h0M700.5 510.5h0M700.5 506.5h0M701.5 507.5h0M701.5 506.5h0M702.5 514.5h0M703.5 506.5h0M703.5 505.5h0M704.5 509.5h0M704.5 512.5h0M705.5 509.5h0M705.5 507.5h0M706.5 511.5h0M706.5 505.5h0M707.5 505.5h0M707.5 503.5h0M708.5 512.5h0M709.5 499.5h0M709.5 503.5h0M710.5 509.5h0M710.5 510.5h0M711.5 515.5h0M711.5 510.5h0M712.5 507.5h0M712.5 514.5h0M713.5 513.5h0M713.5 514.5h0M714.5 514.5h0M715.5 512.5h0M715.5 505.5h0M716.5 507.5h0M716.5 518.5h0M717.5 511.5h0M717.5 505.5h0M718.5 512.5h0M718.5 516.5h0M719.5 514.5h0M719.5 512.5h0M720.5 504.5h0M721.5 513.5h0M721.5 512.5h0M722.5 519.5h0M722.5 513.5h0M723.5 512.5h0M723.5 511.5h0M724.5 512.5h0M724.5 513.5h0M725.5 510.5h0M725.5 508.5h0M726.5 507.5h0M726.5 512.5h0M727.5 509.5h0M728.5 509.5h0M728.5 505.5h0M729.5 507.5h0M729.5 503.5h0M730.5 514.5h0M730.5 515.5h0M731.5 512.5h0M731.5 510.5h0M732.5 512.5h0M732.5 505.5h0M733.5 506.5h0M734.5 515.5h0M734.5 507.5h0M735.5 511.5h0M735.5 509.5h0M736.5 503.5h0M736.5 509.5h0M737.5 515.5h0M737.5 517.5h0M738.5 503.5h0M738.5 506.5h0M739.5 510.5h0M740.5 516.5h0M741.5 518.5h0M742.5 509.5h0M742.5 507.5h0M743.5 514.5h0M743.5 509.5h0M744.5 510.5h0M744.5 509.5h0M745.5 508.5h0M746.5 513.5h0M746.5 506.5h0M747.5 503.5h0M747.5 507.5h0M748.5 510.5h0M748.5 509.5h0M749.5 509.5h0M749.5 502.5h0M750.5 507.5h0M750.5 514.5h0M751.5 510.5h0M752.5 508.5h0M752.5 515.5h0M753.5 509.5h0M753.5 514.5h0M754.5 512.5h0M754.5 513.5h0M755.5 516.5h0M755.5 521.5h0M756.5 517.5h0M756.5 510.5h0M757.5 509.5h0M757.5 512.5h0M758.5 513.5h0M759.5 516.5h0M759.5 514.5h0M760.5 515.5h0M760.5 508.5h0M761.5 514.5h0M761.5 516.5h0M762.5 520.5h0M762.5 517.5h0M763.5 514.5h0M763.5 509.5h0M764.5 513.5h0M765.5 513.5h0M765.5 512.5h0M766.5 513.5h0M766.5 514.5h0M767.5 513.5h0M767.5 519.5h0M768.5 507.5h0M768.5 504.5h0M769.5 511.5h0M769.5 505.5h0M770.5 509.5h0M771.5 509.5h0M771.5 506.5h0M772.5 513.5h0M772.5 512.5h0M773.5 510.5h0M773.5 512.5h0M774.5 513.5h0M774.5 509.5h0M775.5 513.5h0M775.5 512.5h0M776.5 511.5h0M777.5 510.5h0M777.5 518.5h0M778.5 513.5h0M778.5 507.5h0M779.5 514.5h0M779.5 503.5h0M780.5 514.5h0M780.5 516.5h0M781.5 518.5h0M781.5 514.5h0M782.5 510.5h0M782.5 521.5h0M783.5 517.5h0M784.5 518.5h0M784.5 513.5h0M785.5 516.5h0M785.5 507.5h0M786.5 516.5h0M786.5 506.5h0M787.5 510.5h0M787.5 509.5h0M788.5 519.5h0M789.5 513.5h0M790.5 520.5h0M790.5 516.5h0M791.5 508.5h0M791.5 515.5h0M792.5 510.5h0M793.5 493.5h0M793.5 486.5h0M794.5 494.5h0M794.5 493.5h0M795.5 494.5h0M796.5 492.5h0M796.5 497.5h0M797.5 497.5h0M797.5 495.5h0M798.5 494.5h0M798.5 499.5h0M799.5 500.5h0M800.5 493.5h0M800.5 499.5h0M801.5 496.5h0M801.5 505.5h0M802.5 495.5h0M803.5 494.5h0M803.5 501.5h0M804.5 494.5h0M804.5 501.5h0M805.5 497.5h0M806.5 505.5h0M806.5 506.5h0M807.5 505.5h0M807.5 494.5h0M808.5 496.5h0M808.5 492.5h0M809.5 513.5h0M809.5 501.5h0M810.5 502.5h0M810.5 504.5h0M811.5 507.5h0M812.5 503.5h0M812.5 505.5h0M813.5 505.5h0M813.5 500.5h0M814.5 512.5h0M815.5 505.5h0M816.5 512.5h0M816.5 514.5h0M817.5 505.5h0M818.5 507.5h0M818.5 503.5h0M819.5 505.5h0M819.5 494.5h0M820.5 495.5h0M820.5 505.5h0M821.5 502.5h0M821.5 504.5h0M822.5 503.5h0M822.5 504.5h0M823.5 503.5h0M823.5 501.5h0M824.5 503.5h0M825.5 499.5h0M825.5 507.5h0M826.5 498.5h0M826.5 500.5h0M827.5 505.5h0M827.5 500.5h0M828.5 505.5h0M828.5 507.5h0M829.5 505.5h0M829.5 500.5h0M830.5 509.5h0M831.5 504.5h0M831.5 499.5h0M832.5 511.5h0M832.5 504.5h0M833.5 506.5h0M833.5 507.5h0M834.5 502.5h0M834.5 507.5h0M835.5 499.5h0M835.5 501.5h0M836.5 503.5h0M837.5 513.5h0M837.5 507.5h0M838.5 509.5h0M838.5 503.5h0M839.5 506.5h0M839.5 496.5h0M840.5 503.5h0M840.5 505.5h0M841.5 501.5h0M841.5 495.5h0M842.5 496.5h0M843.5 504.5h0M843.5 507.5h0M844.5 500.5h0M844.5 507.5h0M845.5 496.5h0M845.5 503.5h0M846.5 502.5h0M846.5 504.5h0M847.5 494.5h0M847.5 504.5h0M848.5 501.5h0M849.5 497.5h0M849.5 499.5h0M850.5 500.5h0M850.5 502.5h0M851.5 498.5h0M852.5 502.5h0M852.5 501.5h0M853.5 503.5h0M853.5 505.5h0M854.5 495.5h0M854.5 502.5h0M855.5 503.5h0M856.5 502.5h0M856.5 498.5h0M857.5 505.5h0M857.5 509.5h0M858.5 502.5h0M858.5 500.5h0M859.5 506.5h0M859.5 504.5h0M860.5 504.5h0M860.5 505.5h0M861.5 503.5h0M862.5 505.5h0M862.5 502.5h0M863.5 498.5h0M863.5 509.5h0M864.5 507.5h0M864.5 506.5h0M865.5 511.5h0M865.5 506.5h0M866.5 511.5h0M866.5 510.5h0M867.5 506.5h0M868.5 502.5h0M868.5 509.5h0M869.5 508.5h0M869.5 511.5h0M870.5 502.5h0M870.5 508.5h0M871.5 509.5h0M871.5 510.5h0M872.5 509.5h0M872.5 510.5h0M873.5 501.5h0M874.5 509.5h0M874.5 508.5h0M875.5 505.5h0M875.5 511.5h0M876.5 510.5h0M876.5 507.5h0M877.5 506.5h0M877.5 513.5h0M878.5 503.5h0M878.5 512.5h0M879.5 508.5h0M879.5 513.5h0M880.5 521.5h0M881.5 517.5h0M881.5 513.5h0M882.5 519.5h0M882.5 521.5h0M883.5 518.5h0M883.5 521.5h0M884.5 515.5h0M884.5 517.5h0M885.5 515.5h0M885.5 514.5h0M886.5 516.5h0M887.5 513.5h0M887.5 516.5h0M888.5 525.5h0M888.5 520.5h0M889.5 517.5h0M889.5 524.5h0M890.5 524.5h0M890.5 514.5h0M891.5 516.5h0M891.5 525.5h0M892.5 519.5h0M893.5 519.5h0M893.5 516.5h0M894.5 514.5h0M894.5 522.5h0M895.5 514.5h0M895.5 519.5h0M896.5 524.5h0M896.5 519.5h0M897.5 508.5h0M898.5 506.5h0M898.5 500.5h0M899.5 498.5h0M899.5 504.5h0M900.5 501.5h0M900.5 505.5h0M901.5 503.5h0M901.5 504.5h0M902.5 506.5h0M902.5 507.5h0M903.5 502.5h0M904.5 505.5h0M904.5 500.5h0M905.5 498.5h0M905.5 504.5h0M906.5 508.5h0M907.5 503.5h0M907.5 497.5h0M908.5 505.5h0M908.5 502.5h0M909.5 506.5h0M910.5 508.5h0M910.5 502.5h0M911.5 501.5h0M911.5 502.5h0M912.5 500.5h0M912.5 499.5h0M913.5 504.5h0M913.5 500.5h0M914.5 501.5h0M915.5 500.5h0M915.5 505.5h0M916.5 501.5h0M917.5 502.5h0M917.5 505.5h0M918.5 502.5h0M918.5 497.5h0M919.5 501.5h0M920.5 505.5h0M920.5 509.5h0M921.5 504.5h0M921.5 503.5h0M922.5 509.5h0M923.5 501.5h0M923.5 505.5h0M924.5 506.5h0M924.5 504.5h0M925.5 503.5h0M925.5 505.5h0M926.5 510.5h0M926.5 507.5h0M927.5 502.5h0M927.5 506.5h0M928.5 509.5h0M929.5 512.5h0M929.5 508.5h0M930.5 506.5h0M930.5 511.5h0M931.5 509.5h0M931.5 506.5h0M932.5 503.5h0M932.5 506.5h0M933.5 510.5h0M933.5 502.5h0M934.5 500.5h0M935.5 509.5h0M935.5 501.5h0M936.5 502.5h0M936.5 507.5h0M937.5 507.5h0M937.5 508.5h0M938.5 509.5h0M938.5 510.5h0M939.5 508.5h0M939.5 505.5h0M940.5 498.5h0M940.5 514.5h0M941.5 512.5h0M942.5 511.5h0M942.5 509.5h0M943.5 506.5h0M943.5 511.5h0M944.5 509.5h0M944.5 504.5h0M945.5 514.5h0M945.5 504.5h0M946.5 508.5h0M946.5 517.5h0M947.5 507.5h0M948.5 511.5h0M948.5 515.5h0M949.5 511.5h0M949.5 506.5h0M950.5 509.5h0M950.5 511.5h0M951.5 505.5h0M951.5 517.5h0M952.5 512.5h0M952.5 514.5h0M953.5 512.5h0M954.5 513.5h0M954.5 510.5h0M955.5 506.5h0M955.5 514.5h0M956.5 511.5h0M956.5 517.5h0M957.5 507.5h0M957.5 512.5h0M958.5 520.5h0M958.5 507.5h0M959.5 507.5h0M960.5 513.5h0M960.5 519.5h0M961.5 508.5h0M961.5 513.5h0M962.5 512.5h0M962.5 510.5h0M963.5 512.5h0M963.5 517.5h0M964.5 513.5h0M964.5 507.5h0M965.5 510.5h0M966.5 513.5h0M966.5 507.5h0M967.5 509.5h0M967.5 510.5h0M968.5 503.5h0M968.5 518.5h0M969.5 505.5h0M969.5 511.5h0M970.5 509.5h0M970.5 507.5h0M971.5 514.5h0M971.5 509.5h0M972.5 505.5h0M973.5 512.5h0M973.5 510.5h0M974.5 503.5h0M974.5 501.5h0M975.5 510.5h0M975.5 506.5h0M976.5 501.5h0M976.5 509.5h0M977.5 501.5h0M977.5 504.5h0M978.5 503.5h0M979.5 499.5h0M979.5 509.5h0M980.5 520.5h0M980.5 509.5h0M981.5 508.5h0M981.5 506.5h0M982.5 506.5h0M982.5 507.5h0M983.5 509.5h0M983.5 504.5h0M984.5 506.5h0M985.5 505.5h0M985.5 508.5h0M986.5 510.5h0M987.5 505.5h0M988.5 509.5h0M988.5 506.5h0M989.5 507.5h0M989.5 509.5h0M990.5 509.5h0M991.5 513.5h0M991.5 504.5h0M992.5 513.5h0M992.5 507.5h0M993.5 511.5h0M993.5 504.5h0M994.5 508.5h0M994.5 506.5h0M995.5 515.5h0M995.5 505.5h0M996.5 512.5h0M996.5 505.5h0M997.5 503.5h0M998.5 509.5h0M998.5 511.5h0M999.5 507.5h0M999.5 509.5h0M1000.5 508.5h0M1000.5 506.5h0M1001.5 512.5h0M1001.5 507.5h0M1002.5 510.5h0M1002.5 502.5h0M1003.5 505.5h0M1004.5 510.5h0M1004.5 504.5h0M1005.5 497.5h0M1005.5 508.5h0M1006.5 507.5h0M1006.5 504.5h0M1007.5 505.5h0M1007.5 503.5h0M1008.5 505.5h0M1008.5 508.5h0M1009.5 504.5h0M1010.5 503.5h0M1010.5 501.5h0M1011.5 502.5h0M1011.5 501.5h0M1012.5 507.5h0M1012.5 499.5h0M1013.5 501.5h0M1013.5 505.5h0M1014.5 505.5h0M1015.5 503.5h0M1016.5 506.5h0M1016.5 500.5h0M1017.5 500.5h0M1017.5 501.5h0M1018.5 508.5h0M1018.5 512.5h0M1019.5 506.5h0M1020.5 507.5h0M1020.5 515.5h0M1021.5 509.5h0M1022.5 508.5h0M1022.5 506.5h0M1023.5 510.5h0M1023.5 512.5h0M1024.5 508.5h0M1024.5 503.5h0M1025.5 511.5h0M1025.5 505.5h0M1026.5 512.5h0M1026.5 500.5h0M1027.5 503.5h0M1027.5 504.5h0M1028.5 495.5h0M1029.5 502.5h0M1029.5 503.5h0M1030.5 500.5h0M1030.5 502.5h0M1031.5 501.5h0M1031.5 497.5h0M1032.5 503.5h0M1032.5 497.5h0M1033.5 499.5h0M1033.5 498.5h0M1034.5 503.5h0M1035.5 500.5h0M1036.5 494.5h0M1036.5 502.5h0M1037.5 507.5h0M1037.5 496.5h0M1038.5 506.5h0M1038.5 505.5h0M1039.5 499.5h0M1039.5 505.5h0M1040.5 511.5h0M1041.5 508.5h0M1041.5 510.5h0M1042.5 513.5h0M1042.5 508.5h0M1043.5 513.5h0M1043.5 506.5h0M1044.5 508.5h0M1044.5 517.5h0M1045.5 517.5h0M1045.5 515.5h0M1046.5 506.5h0M1047.5 511.5h0M1047.5 509.5h0M1048.5 520.5h0M1048.5 507.5h0M1049.5 507.5h0M1049.5 510.5h0M1050.5 513.5h0M1050.5 510.5h0M1051.5 511.5h0M1052.5 487.5h0M1052.5 486.5h0M1053.5 486.5h0M1053.5 491.5h0M1054.5 486.5h0M1054.5 496.5h0M1055.5 487.5h0M1055.5 496.5h0M1056.5 492.5h0M1056.5 499.5h0M1057.5 488.5h0M1057.5 496.5h0M1058.5 493.5h0M1059.5 492.5h0M1059.5 498.5h0M1060.5 494.5h0M1060.5 493.5h0M1061.5 496.5h0M1061.5 494.5h0M1062.5 497.5h0M1062.5 498.5h0M1063.5 503.5h0M1063.5 499.5h0M1064.5 497.5h0M1065.5 504.5h0M1065.5 500.5h0M1066.5 498.5h0M1066.5 497.5h0M1067.5 509.5h0M1067.5 503.5h0M1068.5 510.5h0M1068.5 500.5h0M1069.5 500.5h0M1069.5 512.5h0M1070.5 504.5h0M1071.5 505.5h0M1071.5 506.5h0M1072.5 503.5h0M1072.5 511.5h0M1073.5 503.5h0M1073.5 511.5h0M1074.5 504.5h0M1074.5 519.5h0M1075.5 512.5h0M1075.5 513.5h0M1076.5 502.5h0M1077.5 510.5h0M1077.5 506.5h0M1078.5 505.5h0M1079.5 512.5h0M1079.5 508.5h0M1080.5 506.5h0M1081.5 505.5h0M1082.5 506.5h0M1082.5 503.5h0M1083.5 504.5h0M1084.5 499.5h0M1084.5 507.5h0M1085.5 510.5h0M1085.5 506.5h0M1086.5 513.5h0M1086.5 505.5h0M1087.5 508.5h0M1087.5 513.5h0M1088.5 510.5h0M1088.5 506.5h0M1089.5 511.5h0M1090.5 508.5h0M1090.5 515.5h0M1091.5 514.5h0M1091.5 510.5h0M1092.5 513.5h0M1092.5 518.5h0M1093.5 516.5h0M1093.5 515.5h0M1094.5 511.5h0M1094.5 510.5h0M1095.5 510.5h0M1096.5 517.5h0M1096.5 509.5h0M1097.5 515.5h0M1097.5 519.5h0M1098.5 507.5h0M1098.5 515.5h0M1099.5 509.5h0M1099.5 513.5h0M1100.5 515.5h0M1100.5 509.5h0M1101.5 508.5h0M1102.5 511.5h0M1102.5 514.5h0M1103.5 511.5h0M1103.5 509.5h0M1104.5 515.5h0M1104.5 508.5h0M1105.5 506.5h0M1105.5 512.5h0M1106.5 520.5h0M1106.5 510.5h0M1107.5 511.5h0M1108.5 508.5h0M1108.5 509.5h0M1109.5 507.5h0M1109.5 513.5h0M1110.5 509.5h0M1111.5 516.5h0M1111.5 507.5h0M1112.5 516.5h0M1112.5 512.5h0M1113.5 509.5h0M1113.5 513.5h0M1114.5 512.5h0M1115.5 514.5h0M1115.5 512.5h0M1116.5 520.5h0M1116.5 517.5h0M1117.5 517.5h0M1117.5 508.5h0M1118.5 512.5h0M1118.5 518.5h0M1119.5 515.5h0M1119.5 513.5h0M1120.5 513.5h0M1121.5 517.5h0M1121.5 506.5h0M1122.5 510.5h0M1122.5 508.5h0M1123.5 518.5h0M1123.5 508.5h0M1124.5 513.5h0M1124.5 519.5h0M1125.5 512.5h0M1125.5 515.5h0M1126.5 514.5h0M1127.5 516.5h0M1127.5 522.5h0M1128.5 508.5h0M1128.5 513.5h0M1129.5 519.5h0M1129.5 521.5h0M1130.5 511.5h0M1130.5 516.5h0M1131.5 513.5h0M1131.5 512.5h0M1132.5 503.5h0M1133.5 502.5h0M1133.5 508.5h0M1134.5 506.5h0M1135.5 501.5h0M1135.5 511.5h0M1136.5 504.5h0M1136.5 514.5h0M1137.5 502.5h0M1137.5 504.5h0M1138.5 505.5h0M1138.5 501.5h0M1139.5 498.5h0M1140.5 499.5h0M1140.5 501.5h0M1141.5 499.5h0M1141.5 508.5h0M1142.5 498.5h0M1142.5 503.5h0M1143.5 503.5h0M1143.5 500.5h0M1144.5 495.5h0M1144.5 501.5h0M1145.5 502.5h0M1146.5 499.5h0M1146.5 498.5h0M1147.5 490.5h0M1147.5 494.5h0M1148.5 498.5h0M1148.5 499.5h0M1149.5 501.5h0M1149.5 497.5h0M1150.5 499.5h0M1150.5 494.5h0M1151.5 501.5h0M1152.5 501.5h0M1152.5 498.5h0M1153.5 502.5h0M1153.5 497.5h0M1154.5 496.5h0M1154.5 497.5h0M1155.5 506.5h0M1155.5 492.5h0M1156.5 498.5h0M1156.5 496.5h0M1157.5 498.5h0M1158.5 491.5h0M1158.5 499.5h0M1159.5 499.5h0M1159.5 495.5h0M1160.5 494.5h0M1160.5 496.5h0M1161.5 499.5h0M1161.5 489.5h0M1162.5 513.5h0M1163.5 513.5h0M1163.5 512.5h0M1164.5 517.5h0M1164.5 518.5h0M1165.5 515.5h0M1165.5 514.5h0M1166.5 515.5h0M1166.5 512.5h0M1167.5 519.5h0M1168.5 513.5h0M1169.5 523.5h0M1169.5 517.5h0M1170.5 521.5h0M1170.5 518.5h0M1171.5 517.5h0M1171.5 521.5h0M1172.5 515.5h0M1172.5 518.5h0M1173.5 515.5h0M1173.5 521.5h0M1174.5 519.5h0M1175.5 518.5h0M1175.5 517.5h0M1176.5 522.5h0M1176.5 520.5h0M1177.5 518.5h0M1177.5 517.5h0M1178.5 526.5h0M1178.5 524.5h0M1179.5 514.5h0M1179.5 523.5h0M1180.5 520.5h0M1180.5 518.5h0M1181.5 519.5h0M1182.5 511.5h0M1182.5 526.5h0M1183.5 524.5h0M1183.5 516.5h0M1184.5 516.5h0M1185.5 513.5h0M1185.5 518.5h0M1186.5 515.5h0M1186.5 511.5h0M1187.5 514.5h0M1188.5 513.5h0M1189.5 515.5h0M1189.5 519.5h0M1190.5 515.5h0M1190.5 510.5h0M1191.5 523.5h0M1191.5 515.5h0M1192.5 524.5h0M1192.5 519.5h0M1193.5 521.5h0M1194.5 516.5h0M1194.5 520.5h0M1195.5 519.5h0M1195.5 520.5h0M1196.5 523.5h0M1196.5 520.5h0M1197.5 525.5h0M1197.5 516.5h0M1198.5 518.5h0M1198.5 524.5h0M1199.5 524.5h0M1200.5 526.5h0M1200.5 528.5h0M1201.5 523.5h0M1201.5 524.5h0M1202.5 522.5h0M1203.5 520.5h0M1203.5 521.5h0M1204.5 518.5h0M1204.5 520.5h0M1205.5 523.5h0M1205.5 522.5h0M1206.5 524.5h0M1207.5 517.5h0M1207.5 518.5h0M1208.5 521.5h0M1208.5 515.5h0M1209.5 515.5h0M1209.5 521.5h0M1210.5 517.5h0M1210.5 522.5h0M1211.5 519.5h0M1211.5 516.5h0M1212.5 514.5h0M1213.5 523.5h0M1213.5 518.5h0M1214.5 515.5h0M1214.5 512.5h0M1215.5 513.5h0M1215.5 517.5h0M1216.5 523.5h0M1216.5 515.5h0M1217.5 519.5h0M1218.5 505.5h0M1219.5 513.5h0M1219.5 521.5h0M1220.5 509.5h0M1220.5 521.5h0M1221.5 517.5h0M1221.5 510.5h0M1222.5 523.5h0M1222.5 515.5h0M1223.5 521.5h0M1223.5 515.5h0M1224.5 510.5h0M1225.5 517.5h0M1225.5 519.5h0M1226.5 516.5h0M1226.5 506.5h0M1227.5 512.5h0M1227.5 504.5h0M1228.5 506.5h0M1228.5 513.5h0M1229.5 502.5h0M1230.5 498.5h0M1230.5 509.5h0M1231.5 503.5h0M1231.5 501.5h0M1232.5 494.5h0M1232.5 503.5h0M1233.5 502.5h0M1233.5 500.5h0M1234.5 498.5h0M1234.5 499.5h0M1235.5 495.5h0M1235.5 500.5h0M1236.5 500.5h0M1237.5 498.5h0M1237.5 501.5h0M1238.5 496.5h0M1238.5 507.5h0M1239.5 502.5h0M1239.5 498.5h0M1240.5 506.5h0M1240.5 505.5h0M1241.5 501.5h0M1241.5 497.5h0M1242.5 502.5h0M1243.5 504.5h0M1243.5 505.5h0M1244.5 505.5h0M1245.5 496.5h0M1245.5 502.5h0M1246.5 494.5h0M1246.5 505.5h0M1247.5 502.5h0M1247.5 504.5h0M1248.5 501.5h0M1249.5 501.5h0M1249.5 499.5h0M1250.5 490.5h0M1250.5 501.5h0M1251.5 512.5h0M1251.5 507.5h0M1252.5 501.5h0M1252.5 504.5h0M1253.5 505.5h0M1253.5 501.5h0M1254.5 504.5h0M1255.5 506.5h0M1255.5 503.5h0M1256.5 507.5h0M1256.5 510.5h0M1257.5 509.5h0M1257.5 507.5h0M1258.5 505.5h0M1258.5 509.5h0M1259.5 504.5h0M1260.5 511.5h0M1260.5 505.5h0M1261.5 501.5h0M1262.5 510.5h0M1262.5 509.5h0M1263.5 511.5h0M1263.5 506.5h0M1264.5 511.5h0M1264.5 506.5h0M1265.5 502.5h0M1265.5 506.5h0M1266.5 507.5h0M1266.5 502.5h0M1267.5 506.5h0M1268.5 508.5h0M1268.5 505.5h0M1269.5 508.5h0M1270.5 505.5h0M1270.5 510.5h0M1271.5 511.5h0M1271.5 502.5h0M1272.5 507.5h0M1272.5 514.5h0M1273.5 513.5h0M1274.5 504.5h0M1274.5 512.5h0M1275.5 517.5h0M1275.5 515.5h0M1276.5 515.5h0M1276.5 512.5h0M1277.5 513.5h0M1277.5 508.5h0M1278.5 513.5h0M1278.5 521.5h0M1279.5 512.5h0M1280.5 509.5h0M1280.5 514.5h0M1281.5 505.5h0M1281.5 521.5h0M1282.5 515.5h0M1282.5 511.5h0M1283.5 511.5h0M1283.5 509.5h0M1284.5 513.5h0M1285.5 507.5h0M1286.5 516.5h0M1286.5 511.5h0M1287.5 509.5h0M1287.5 517.5h0M1288.5 516.5h0M1288.5 511.5h0M1289.5 511.5h0M1289.5 517.5h0M1290.5 512.5h0M1290.5 514.5h0M1291.5 518.5h0M1291.5 508.5h0M1292.5 507.5h0M1293.5 509.5h0M1293.5 510.5h0M1294.5 512.5h0M1294.5 516.5h0M1295.5 510.5h0M1295.5 518.5h0M1296.5 512.5h0M1296.5 503.5h0M1297.5 510.5h0M1297.5 513.5h0M1298.5 514.5h0M1299.5 507.5h0M1299.5 509.5h0M1300.5 517.5h0M1300.5 509.5h0M1301.5 505.5h0M1301.5 502.5h0M1302.5 506.5h0M1302.5 509.5h0M218.5 546.5h0M261.5 566.5h0M326.5 569.5h0M363.5 568.5h0M371.5 567.5h0M415.5 568.5h0M469.5 548.5h0M382.5 547.5h0M335.5 549.5h0M788.5 526.5h0M892.5 527.5h0M856.5 515.5h0M846.5 490.5h0M994.5 525.5h0M676.5 525.5h0M933.5 495.5h0M885.5 505.5h0M1196.5 530.5h0M1173.5 527.5h0M1114.5 523.5h0M1127.5 525.5h0M1134.5 490.5h0M1029.5 489.5h0M1041.5 491.5h0M1185.5 506.5h0M1195.5 508.5h0M1295.5 520.5h0M1298.5 502.5h0M1303.5 503.5h0" stroke="#000" stroke-width="3.7" stroke-linecap="round" fill="none"/>
<path d="M546.5 470.5h0M545.5 479.5h0M547.5 479.5h0M553.5 478.5h0M545.5 484.5h0M570.5 482.5h0M571.5 483.5h0M569.5 485.5h0M606.5 483.5h0M610.5 484.5h0M613.5 481.5h0M614.5 485.5h0M1051.5 482.5h0M1053.5 481.5h0M1054.5 485.5h0M875.5 626.5h0" stroke="#ffa500" stroke-width="3.7" stroke-linecap="round" fill="none"/>
<rect x="105.5" y="499" width="1255.4" height="49" fill="#f00" fill-opacity="0.1" stroke="#f00" stroke-opacity="0.1" stroke-width="1"/>
<path d="M162 666.05V380.5" stroke="#800080" stroke-width="2.08" fill="none" stroke-dasharray="2.08 3.44"/>
<path d="M515 666.05V380.5" stroke="#800080" stroke-width="2.08" fill="none" stroke-dasharray="2.08 3.44"/>
<path d="M1303 666.05V380.5" stroke="#800080" stroke-width="2.08" fill="none" stroke-dasharray="2.08 3.44"/>
<path d="M160.9 557.55H517" stroke="#ffa500" stroke-width="2.9" fill="none"/>
<path d="M514.1 508.4H1305" stroke="#ffa500" stroke-width="2.9" fill="none"/>
<path d="M105.5 523H1361" stroke="#f00" stroke-width="2.08" fill="none"/>
<rect x="162.4" y="553.2" width="352.5" height="9.3" fill="#ffa500" fill-opacity="0.1" stroke="#ffa500" stroke-opacity="0.1" stroke-width="1"/>
<rect x="514.9" y="499.3" width="788.5" height="17.6" fill="#ffa500" fill-opacity="0.1" stroke="#ffa500" stroke-opacity="0.1" stroke-width="1"/>
</g>
<text x="337.7" y="657" text-anchor="middle">51049</text>
<text x="908.8" y="637" text-anchor="middle">29767</text>
<rect x="105.5" y="380.5" width="1380" height="286" fill="none" stroke="#000" stroke-width="1"/>
<path d="M162.5 666.5v4.9M428.5 666.5v4.9M693.5 666.5v4.9M958.5 666.5v4.9M1223.5 666.5v4.9" stroke="#000" stroke-width="1" fill="none"/>
<text x="163.3" y="687" text-anchor="middle">0</text>
<text x="426.85" y="687" text-anchor="middle">500</text>
<text x="693.4" y="687" text-anchor="middle">1000</text>
<text x="958.5" y="687" text-anchor="middle">1500</text>
<text x="1223.55" y="687" text-anchor="middle">2000</text>
<path d="M105.5 645.5h-4.9M105.5 590.5h-4.9M105.5 535.5h-4.9M105.5 480.5h-4.9M105.5 425.5h-4.9" stroke="#000" stroke-width="1" fill="none"/>
<text x="94.98" y="650.38" text-anchor="end">8.5</text>
<text x="94.98" y="595.38" text-anchor="end">8.6</text>
<text x="94.98" y="540.38" text-anchor="end">8.7</text>
<text x="94.98" y="485.38" text-anchor="end">8.8</text>
<text x="94.98" y="430.38" text-anchor="end">8.9</text>
<text x="795" y="372" text-anchor="middle" font-size="16.67">Magnitude Estimates</text>
<rect x="1348.5" y="613.4" width="130.1" height="46" rx="2.8" ry="2.8" fill="#fff" fill-opacity="0.8" stroke="#ccc" stroke-opacity="0.8" stroke-width="1.1"/>
<path d="M1367.5 626.5h0" stroke="#ffa500" stroke-width="3.7" stroke-linecap="round" fill="none"/>
<text x="1392.93" y="630">Highlighted</text>
<path d="M1367.5 647.5h0" stroke="#000" stroke-width="3.7" stroke-linecap="round" fill="none"/>
<text x="1392.93" y="651">OK</text>
<rect x="1365.3" y="387.3" width="113.1" height="48.2" rx="2.8" ry="2.8" fill="#fff" fill-opacity="0.8" stroke="#ccc" stroke-opacity="0.8" stroke-width="1.1"/>
<path d="M1370.4 399.5H1398.2" stroke="#ffa500" stroke-width="2.9" fill="none" stroke-linecap="square"/>
<text x="1409.8" y="404">mag<tspan font-size="9.72" font-style="oblique" dy="1.6">OBSID</tspan></text>
<path d="M1370.1 421.9H1397.9" stroke="#f00" stroke-width="2.08" fill="none" stroke-linecap="square"/>
<text x="1409.1" y="427">mag</text>
<path d="M162.5 763.5h0M163.5 763.5h0M164.5 763.5h0M165.5 763.5h0M166.5 763.5h0M167.5 763.5h0M168.5 763.5h0M169.5 763.5h0M170.5 763.5h0M171.5 763.5h0M172.5 763.5h0M173.5 763.5h0M174.5 763.5h0M175.5 763.5h0M176.5 763.5h0M177.5 763.5h0M178.5 763.5h0M179.5 763.5h0M180.5 763.5h0M181.5 763.5h0M182.5 763.5h0M515.5 763.5h0M516.5 763.5h0M517.5 763.5h0M518.5 763.5h0M519.5 763.5h0M520.5 763.5h0M521.5 763.5h0M522.5 763.5h0M523.5 763.5h0M524.5 763.5h0M525.5 763.5h0M526.5 763.5h0M527.5 763.5h0M528.5 763.5h0M529.5 763.5h0M530.5 763.5h0M531.5 763.5h0M532.5 763.5h0M533.5 763.5h0M534.5 763.5h0M535.5 763.5h0M536.5 763.5h0M537.5 763.5h0M538.5 763.5h0M539.5 763.5h0M540.5 763.5h0M541.5 763.5h0M542.5 763.5h0M543.5 763.5h0M544.5 763.5h0" stroke="#000" stroke-width="3.1" stroke-linecap="round" fill="none"/>
<path d="M815.5 840.5h0M815.5 878.5h0" stroke="#000" stroke-width="3.1" stroke-linecap="round" fill="none"/>
<path d="M105.5 916.5H1485.5" stroke="#b0b0b0" stroke-width="1.11" fill="none" stroke-dasharray="1.11 1.83"/>
<path d="M105.5 878.5H1485.5" stroke="#b0b0b0" stroke-width="1.11" fill="none" stroke-dasharray="1.11 1.83"/>
<path d="M105.5 840.5H1485.5" stroke="#b0b0b0" stroke-width="1.11" fill="none" stroke-dasharray="1.11 1.83"/>
<path d="M105.5 802.5H1485.5" stroke="#b0b0b0" stroke-width="1.11" fill="none" stroke-dasharray="1.11 1.83"/>
<path d="M105.5 763.5H1485.5" stroke="#b0b0b0" stroke-width="1.11" fill="none" stroke-dasharray="1.11 1.83"/>
<path d="M162 954.05V725.5" stroke="#800080" stroke-width="2.08" fill="none" stroke-dasharray="2.08 3.44"/>
<path d="M515 954.05V725.5" stroke="#800080" stroke-width="2.08" fill="none" stroke-dasharray="2.08 3.44"/>
<path d="M1303 954.05V725.5" stroke="#800080" stroke-width="2.08" fill="none" stroke-dasharray="2.08 3.44"/>
<rect x="105.5" y="954.5" width="1380" height="57" fill="#fff"/>
<g clip-path="url(#c3)">
<path d="M182.5 1003.5h0M182.5 1004.5h0M183.5 1005.5h0M184.5 1005.5h0M184.5 1006.5h0M185.5 1006.5h0M186.5 1006.5h0M187.5 1006.5h0M188.5 1006.5h0M189.5 1006.5h0M190.5 1006.5h0M191.5 1006.5h0M192.5 1006.5h0M193.5 1007.5h0M193.5 1006.5h0M194.5 1007.5h0M194.5 1006.5h0M195.5 1006.5h0M196.5 1006.5h0M197.5 1006.5h0M197.5 1007.5h0M198.5 1007.5h0M199.5 1007.5h0M199.5 1006.5h0M200.5 1006.5h0M201.5 1006.5h0M201.5 1007.5h0M202.5 1006.5h0M203.5 1006.5h0M204.5 1006.5h0M205.5 1006.5h0M205.5 1007.5h0M206.5 1006.5h0M207.5 1007.5h0M208.5 1007.5h0M209.5 1006.5h0M210.5 1007.5h0M211.5 1007.5h0M212.5 1007.5h0M213.5 1008.5h0M214.5 1007.5h0M214.5 1008.5h0M215.5 1008.5h0M216.5 1008.5h0M217.5 1008.5h0M217.5 1009.5h0M218.5 1008.5h0M219.5 1008.5h0M220.5 1008.5h0M221.5 1007.5h0M221.5 1008.5h0M222.5 1007.5h0M223.5 1007.5h0M224.5 1006.5h0M225.5 1006.5h0M226.5 1006.5h0M226.5 1005.5h0M227.5 1005.5h0M227.5 1004.5h0M228.5 1005.5h0M229.5 1004.5h0M230.5 1004.5h0M231.5 1004.5h0M232.5 1004.5h0M233.5 1004.5h0M233.5 1005.5h0M234.5 1005.5h0M235.5 1005.5h0M236.5 1005.5h0M237.5 1005.5h0M238.5 1005.5h0M239.5 1005.5h0M240.5 1005.5h0M241.5 1005.5h0M242.5 1005.5h0M242.5 1006.5h0M243.5 1005.5h0M244.5 1006.5h0M245.5 1005.5h0M246.5 1005.5h0M247.5 1005.5h0M248.5 1005.5h0M249.5 1005.5h0M250.5 1005.5h0M251.5 1005.5h0M252.5 1005.5h0M253.5 1005.5h0M254.5 1005.5h0M255.5 1006.5h0M255.5 1005.5h0M256.5 1006.5h0M257.5 1007.5h0M257.5 1006.5h0M258.5 1007.5h0M259.5 1007.5h0M260.5 1007.5h0M260.5 1008.5h0M261.5 1008.5h0M262.5 1007.5h0M263.5 1007.5h0M264.5 1007.5h0M265.5 1006.5h0M266.5 1007.5h0M267.5 1007.5h0M268.5 1007.5h0M269.5 1007.5h0M269.5 1008.5h0M270.5 1007.5h0M271.5 1007.5h0M272.5 1007.5h0M273.5 1007.5h0M274.5 1006.5h0M275.5 1005.5h0M275.5 1006.5h0M276.5 1006.5h0M277.5 1006.5h0M278.5 1005.5h0M279.5 1005.5h0M280.5 1005.5h0M281.5 1005.5h0M282.5 1004.5h0M283.5 1004.5h0M284.5 1004.5h0M285.5 1004.5h0M285.5 1005.5h0M286.5 1005.5h0M286.5 1006.5h0M287.5 1006.5h0M288.5 1006.5h0M288.5 1007.5h0M289.5 1007.5h0M289.5 1006.5h0M290.5 1007.5h0M291.5 1007.5h0M292.5 1007.5h0M293.5 1007.5h0M294.5 1007.5h0M295.5 1007.5h0M296.5 1006.5h0M297.5 1006.5h0M298.5 1006.5h0M299.5 1006.5h0M300.5 1006.5h0M301.5 1006.5h0M302.5 1007.5h0M302.5 1006.5h0M303.5 1006.5h0M303.5 1007.5h0M304.5 1007.5h0M305.5 1007.5h0M306.5 1007.5h0M307.5 1007.5h0M307.5 1006.5h0M308.5 1007.5h0M308.5 1006.5h0M309.5 1007.5h0M310.5 1007.5h0M311.5 1007.5h0M312.5 1007.5h0M313.5 1007.5h0M314.5 1007.5h0M315.5 1007.5h0M316.5 1007.5h0M317.5 1007.5h0M318.5 1006.5h0M319.5 1007.5h0M319.5 1006.5h0M320.5 1006.5h0M321.5 1006.5h0M322.5 1006.5h0M323.5 1006.5h0M323.5 1005.5h0M324.5 1005.5h0M325.5 1005.5h0M325.5 1006.5h0M326.5 1006.5h0M327.5 1007.5h0M328.5 1008.5h0M328.5 1007.5h0M329.5 1007.5h0M330.5 1007.5h0M331.5 1007.5h0M331.5 1006.5h0M332.5 1006.5h0M333.5 1006.5h0M333.5 1005.5h0M334.5 1006.5h0M335.5 1006.5h0M335.5 1005.5h0M336.5 1005.5h0M337.5 1006.5h0M337.5 1005.5h0M338.5 1005.5h0M339.5 1005.5h0M340.5 1006.5h0M340.5 1005.5h0M341.5 1005.5h0M341.5 1006.5h0M342.5 1006.5h0M343.5 1006.5h0M344.5 1006.5h0M344.5 1005.5h0M345.5 1005.5h0M346.5 1005.5h0M347.5 1006.5h0M348.5 1006.5h0M349.5 1006.5h0M350.5 1006.5h0M351.5 1006.5h0M352.5 1007.5h0M353.5 1007.5h0M354.5 1007.5h0M355.5 1007.5h0M355.5 1006.5h0M355.5 1005.5h0M356.5 1005.5h0M356.5 1004.5h0M357.5 1005.5h0M358.5 1005.5h0M359.5 1005.5h0M360.5 1005.5h0M361.5 1005.5h0M362.5 1006.5h0M363.5 1006.5h0M364.5 1006.5h0M365.5 1006.5h0M366.5 1006.5h0M366.5 1007.5h0M367.5 1006.5h0M368.5 1006.5h0M369.5 1007.5h0M370.5 1006.5h0M371.5 1006.5h0M372.5 1006.5h0M373.5 1006.5h0M373.5 1005.5h0M374.5 1005.5h0M374.5 1006.5h0M375.5 1005.5h0M376.5 1005.5h0M377.5 1005.5h0M378.5 1005.5h0M379.5 1006.5h0M380.5 1007.5h0M381.5 1007.5h0M382.5 1008.5h0M382.5 1007.5h0M383.5 1007.5h0M384.5 1007.5h0M385.5 1007.5h0M386.5 1007.5h0M386.5 1006.5h0M387.5 1007.5h0M388.5 1007.5h0M388.5 1006.5h0M389.5 1006.5h0M390.5 1005.5h0M391.5 1005.5h0M392.5 1005.5h0M393.5 1006.5h0M393.5 1005.5h0M394.5 1006.5h0M394.5 1005.5h0M395.5 1006.5h0M396.5 1006.5h0M397.5 1006.5h0M398.5 1006.5h0M398.5 1007.5h0M399.5 1006.5h0M400.5 1006.5h0M400.5 1007.5h0M400.5 1008.5h0M401.5 1008.5h0M401.5 1009.5h0M402.5 1009.5h0M403.5 1008.5h0M404.5 1007.5h0M405.5 1007.5h0M405.5 1006.5h0M406.5 1007.5h0M406.5 1006.5h0M407.5 1006.5h0M408.5 1005.5h0M409.5 1005.5h0M410.5 1005.5h0M410.5 1004.5h0M411.5 1004.5h0M412.5 1003.5h0M413.5 1003.5h0M414.5 1007.5h0M415.5 1007.5h0M416.5 1006.5h0M417.5 1006.5h0M418.5 1006.5h0M419.5 1006.5h0M420.5 1006.5h0M421.5 1005.5h0M421.5 1006.5h0M422.5 1005.5h0M423.5 1006.5h0M423.5 1005.5h0M424.5 1005.5h0M425.5 1005.5h0M426.5 1005.5h0M427.5 1005.5h0M428.5 1005.5h0M429.5 1005.5h0M430.5 1005.5h0M431.5 1005.5h0M432.5 1005.5h0M433.5 1005.5h0M434.5 1005.5h0M435.5 1005.5h0M435.5 1006.5h0M436.5 1005.5h0M436.5 1006.5h0M437.5 1005.5h0M438.5 1006.5h0M439.5 1006.5h0M440.5 1006.5h0M440.5 1007.5h0M441.5 1006.5h0M441.5 1007.5h0M442.5 1006.5h0M443.5 1006.5h0M444.5 1007.5h0M445.5 1007.5h0M445.5 1006.5h0M446.5 1007.5h0M447.5 1007.5h0M448.5 1006.5h0M448.5 1007.5h0M449.5 1006.5h0M450.5 1006.5h0M451.5 1006.5h0M452.5 1006.5h0M453.5 1005.5h0M454.5 1005.5h0M454.5 1004.5h0M455.5 1005.5h0M455.5 1006.5h0M456.5 1005.5h0M457.5 1006.5h0M458.5 1006.5h0M459.5 1006.5h0M460.5 1006.5h0M460.5 1007.5h0M461.5 1006.5h0M462.5 1006.5h0M463.5 1006.5h0M464.5 1006.5h0M465.5 1005.5h0M465.5 1006.5h0M466.5 1005.5h0M467.5 1005.5h0M467.5 1006.5h0M468.5 1005.5h0M469.5 1005.5h0M470.5 1005.5h0M471.5 1006.5h0M472.5 1006.5h0M472.5 1007.5h0M473.5 1007.5h0M473.5 1008.5h0M474.5 1008.5h0M475.5 1008.5h0M476.5 1008.5h0M477.5 1008.5h0M478.5 1007.5h0M479.5 1007.5h0M480.5 1007.5h0M481.5 1007.5h0M482.5 1006.5h0M483.5 1006.5h0M484.5 1006.5h0M485.5 1007.5h0M485.5 1006.5h0M486.5 1006.5h0M487.5 1006.5h0M488.5 1006.5h0M489.5 1006.5h0M490.5 1006.5h0M490.5 1007.5h0M491.5 1006.5h0M492.5 1007.5h0M493.5 1006.5h0M494.5 1006.5h0M494.5 1007.5h0M495.5 1006.5h0M495.5 1007.5h0M496.5 1007.5h0M496.5 1006.5h0M497.5 1006.5h0M498.5 1006.5h0M499.5 1005.5h0M499.5 1006.5h0M500.5 1005.5h0M501.5 1005.5h0M502.5 1005.5h0M503.5 1004.5h0M504.5 1004.5h0M505.5 1004.5h0M506.5 1004.5h0M507.5 1005.5h0M508.5 1005.5h0M508.5 1004.5h0M509.5 1005.5h0M510.5 1005.5h0M511.5 1005.5h0M512.5 1005.5h0M513.5 1006.5h0M514.5 1006.5h0M515.5 1006.5h0M544.5 1002.5h0M545.5 1001.5h0M545.5 1000.5h0M546.5 1000.5h0M546.5 999.5h0M546.5 1002.5h0M546.5 1003.5h0M547.5 1004.5h0M547.5 1005.5h0M547.5 1006.5h0M548.5 1006.5h0M548.5 1007.5h0M548.5 1008.5h0M549.5 1008.5h0M549.5 1007.5h0M550.5 1007.5h0M550.5 1006.5h0M550.5 1005.5h0M551.5 1005.5h0M551.5 1004.5h0M552.5 1004.5h0M552.5 1003.5h0M552.5 1002.5h0M553.5 1001.5h0M554.5 1002.5h0M554.5 1001.5h0M555.5 1001.5h0M556.5 1001.5h0M557.5 1001.5h0M558.5 1001.5h0M559.5 1001.5h0M560.5 1002.5h0M561.5 1002.5h0M562.5 1003.5h0M563.5 1003.5h0M564.5 1002.5h0M565.5 1002.5h0M566.5 1001.5h0M567.5 1002.5h0M568.5 1001.5h0M569.5 1000.5h0M570.5 1000.5h0M571.5 1000.5h0M572.5 1001.5h0M572.5 1002.5h0M573.5 1001.5h0M573.5 1003.5h0M574.5 1003.5h0M574.5 1004.5h0M575.5 1005.5h0M576.5 1006.5h0M576.5 1007.5h0M577.5 1007.5h0M577.5 1008.5h0M578.5 1008.5h0M578.5 1009.5h0M579.5 1008.5h0M579.5 1007.5h0M580.5 1007.5h0M580.5 1005.5h0M581.5 1005.5h0M581.5 1004.5h0M582.5 1004.5h0M582.5 1003.5h0M583.5 1003.5h0M584.5 1002.5h0M585.5 1002.5h0M585.5 1001.5h0M586.5 1002.5h0M586.5 1003.5h0M587.5 1004.5h0M587.5 1003.5h0M588.5 1003.5h0M588.5 1002.5h0M589.5 1001.5h0M590.5 1001.5h0M591.5 1000.5h0M594.5 1009.5h0M594.5 1007.5h0M595.5 1007.5h0M595.5 1006.5h0M596.5 1005.5h0M596.5 1004.5h0M597.5 1003.5h0M598.5 1002.5h0M599.5 1001.5h0M599.5 1000.5h0M600.5 999.5h0M600.5 998.5h0M601.5 998.5h0M602.5 997.5h0M602.5 999.5h0M602.5 1000.5h0M603.5 1001.5h0M603.5 1002.5h0M603.5 1003.5h0M604.5 1003.5h0M604.5 1004.5h0M604.5 1005.5h0M604.5 1006.5h0M605.5 1006.5h0M605.5 1007.5h0M606.5 1009.5h0M606.5 1007.5h0M607.5 1007.5h0M607.5 1006.5h0M607.5 1005.5h0M608.5 1005.5h0M608.5 1004.5h0M609.5 1003.5h0M609.5 1002.5h0M610.5 1002.5h0M610.5 1003.5h0M610.5 1004.5h0M610.5 1005.5h0M611.5 1005.5h0M611.5 1007.5h0M611.5 1006.5h0M612.5 1005.5h0M613.5 1005.5h0M614.5 1004.5h0M615.5 1004.5h0M616.5 1004.5h0M616.5 1005.5h0M617.5 1005.5h0M618.5 1004.5h0M618.5 1003.5h0M619.5 1003.5h0M620.5 1003.5h0M621.5 1002.5h0M621.5 1001.5h0M622.5 1001.5h0M623.5 1001.5h0M624.5 1000.5h0M625.5 1000.5h0M626.5 1000.5h0M627.5 1000.5h0M628.5 1000.5h0M628.5 1001.5h0M629.5 1001.5h0M630.5 1002.5h0M631.5 1002.5h0M631.5 1003.5h0M632.5 1003.5h0M632.5 1004.5h0M633.5 1004.5h0M634.5 1004.5h0M635.5 1004.5h0M636.5 1005.5h0M636.5 1004.5h0M637.5 1004.5h0M638.5 1004.5h0M639.5 1004.5h0M640.5 1003.5h0M640.5 1002.5h0M641.5 1003.5h0M642.5 1002.5h0M643.5 1003.5h0M644.5 1003.5h0M644.5 1004.5h0M645.5 1003.5h0M646.5 1004.5h0M647.5 1004.5h0M648.5 1004.5h0M649.5 1005.5h0M650.5 1005.5h0M651.5 1005.5h0M652.5 1005.5h0M653.5 1005.5h0M654.5 1004.5h0M655.5 1005.5h0M655.5 1004.5h0M656.5 1004.5h0M657.5 1004.5h0M658.5 1004.5h0M663.5 999.5h0M663.5 1000.5h0M664.5 999.5h0M664.5 1000.5h0M665.5 1000.5h0M666.5 1000.5h0M666.5 1001.5h0M667.5 1002.5h0M668.5 1002.5h0M668.5 1003.5h0M669.5 1003.5h0M670.5 1003.5h0M671.5 1003.5h0M672.5 1003.5h0M672.5 1002.5h0M673.5 1002.5h0M674.5 1002.5h0M675.5 1003.5h0M676.5 1003.5h0M677.5 1004.5h0M678.5 1005.5h0M679.5 1004.5h0M680.5 1003.5h0M681.5 1003.5h0M682.5 1003.5h0M682.5 1002.5h0M683.5 1002.5h0M684.5 1002.5h0M685.5 1002.5h0M686.5 1002.5h0M687.5 1002.5h0M688.5 1002.5h0M688.5 1001.5h0M689.5 1002.5h0M690.5 1001.5h0M690.5 1002.5h0M691.5 1002.5h0M692.5 1001.5h0M693.5 1001.5h0M694.5 1001.5h0M695.5 1001.5h0M696.5 1002.5h0M696.5 1003.5h0M697.5 1004.5h0M698.5 1005.5h0M698.5 1006.5h0M699.5 1006.5h0M700.5 1006.5h0M700.5 1005.5h0M700.5 1004.5h0M701.5 1004.5h0M701.5 1002.5h0M702.5 1003.5h0M702.5 1002.5h0M703.5 1001.5h0M703.5 1008.5h0M703.5 1007.5h0M704.5 1006.5h0M705.5 1005.5h0M706.5 1005.5h0M706.5 1004.5h0M707.5 1003.5h0M708.5 1002.5h0M708.5 1001.5h0M709.5 1001.5h0M709.5 1000.5h0M710.5 999.5h0M711.5 998.5h0M712.5 997.5h0M714.5 999.5h0M714.5 1001.5h0M714.5 1002.5h0M715.5 1003.5h0M715.5 1004.5h0M716.5 1004.5h0M716.5 1005.5h0M717.5 1005.5h0M718.5 1005.5h0M719.5 1005.5h0M720.5 1004.5h0M721.5 1004.5h0M722.5 1003.5h0M723.5 1003.5h0M723.5 1002.5h0M724.5 1002.5h0M725.5 1001.5h0M726.5 1001.5h0M726.5 1000.5h0M727.5 999.5h0M728.5 999.5h0M730.5 1006.5h0M731.5 1006.5h0M732.5 1005.5h0M733.5 1005.5h0M733.5 1006.5h0M734.5 1005.5h0M735.5 1005.5h0M736.5 1005.5h0M737.5 1004.5h0M738.5 1003.5h0M739.5 1002.5h0M740.5 1002.5h0M740.5 1001.5h0M741.5 1001.5h0M742.5 1001.5h0M743.5 1000.5h0M744.5 1000.5h0M744.5 1002.5h0M745.5 1002.5h0M746.5 1003.5h0M747.5 1004.5h0M748.5 1004.5h0M748.5 1005.5h0M749.5 1005.5h0M749.5 1006.5h0M750.5 1006.5h0M750.5 1007.5h0M751.5 998.5h0M752.5 998.5h0M753.5 999.5h0M754.5 999.5h0M754.5 1000.5h0M755.5 1000.5h0M755.5 1001.5h0M756.5 1002.5h0M756.5 1003.5h0M757.5 1003.5h0M758.5 1004.5h0M758.5 1005.5h0M759.5 1005.5h0M760.5 1004.5h0M761.5 1004.5h0M762.5 1004.5h0M763.5 1004.5h0M763.5 1005.5h0M764.5 1006.5h0M765.5 1007.5h0M766.5 1007.5h0M766.5 1006.5h0M767.5 1006.5h0M767.5 1005.5h0M768.5 1005.5h0M768.5 1004.5h0M769.5 1004.5h0M769.5 1003.5h0M770.5 1003.5h0M770.5 1002.5h0M771.5 1002.5h0M771.5 1001.5h0M772.5 1001.5h0M773.5 1001.5h0M774.5 1000.5h0M776.5 1008.5h0M777.5 1007.5h0M777.5 1006.5h0M778.5 1006.5h0M779.5 1005.5h0M780.5 1004.5h0M781.5 1003.5h0M782.5 1002.5h0M783.5 1003.5h0M783.5 1004.5h0M784.5 1004.5h0M785.5 1003.5h0M786.5 1003.5h0M786.5 1002.5h0M787.5 1002.5h0M787.5 1001.5h0M788.5 1000.5h0M789.5 1000.5h0M789.5 999.5h0M790.5 999.5h0M790.5 998.5h0M791.5 998.5h0M792.5 997.5h0M794.5 1008.5h0M794.5 1007.5h0M795.5 1006.5h0M796.5 1006.5h0M797.5 1005.5h0M797.5 1004.5h0M798.5 1004.5h0M798.5 1003.5h0M799.5 1003.5h0M800.5 1002.5h0M800.5 1001.5h0M801.5 1001.5h0M801.5 1000.5h0M802.5 999.5h0M803.5 1000.5h0M804.5 1000.5h0M805.5 1000.5h0M806.5 1001.5h0M807.5 1000.5h0M808.5 1000.5h0M808.5 1001.5h0M809.5 1001.5h0M810.5 1001.5h0M811.5 1001.5h0M812.5 1001.5h0M813.5 1001.5h0M813.5 1002.5h0M814.5 1002.5h0M815.5 1002.5h0M816.5 1002.5h0M817.5 1002.5h0M817.5 1003.5h0M818.5 1002.5h0M819.5 1003.5h0M820.5 1003.5h0M821.5 1003.5h0M822.5 1003.5h0M823.5 1003.5h0M824.5 1004.5h0M824.5 1003.5h0M825.5 1004.5h0M826.5 1005.5h0M827.5 1005.5h0M828.5 1006.5h0M829.5 1006.5h0M830.5 1006.5h0M830.5 1007.5h0M830.5 999.5h0M830.5 1000.5h0M831.5 1000.5h0M832.5 1000.5h0M832.5 1001.5h0M833.5 1001.5h0M833.5 1002.5h0M834.5 1002.5h0M834.5 1003.5h0M835.5 1003.5h0M836.5 1004.5h0M837.5 1004.5h0M838.5 1005.5h0M839.5 1005.5h0M840.5 1005.5h0M841.5 1005.5h0M842.5 1005.5h0M842.5 1004.5h0M843.5 1004.5h0M843.5 1003.5h0M844.5 1003.5h0M844.5 1002.5h0M845.5 1002.5h0M845.5 1001.5h0M846.5 1001.5h0M845.5 999.5h0M846.5 1000.5h0M847.5 1001.5h0M848.5 1002.5h0M849.5 1003.5h0M849.5 1004.5h0M850.5 1004.5h0M850.5 1005.5h0M851.5 1006.5h0M852.5 1007.5h0M852.5 1008.5h0M853.5 1008.5h0M853.5 1007.5h0M854.5 1007.5h0M854.5 1006.5h0M855.5 1006.5h0M855.5 1005.5h0M856.5 1004.5h0M856.5 1003.5h0M857.5 1002.5h0M858.5 1002.5h0M861.5 1006.5h0M862.5 1005.5h0M863.5 1004.5h0M864.5 1004.5h0M864.5 1003.5h0M865.5 1003.5h0M866.5 1002.5h0M866.5 1003.5h0M867.5 1003.5h0M867.5 1004.5h0M867.5 1005.5h0M867.5 1006.5h0M867.5 1007.5h0M868.5 1006.5h0M869.5 1005.5h0M870.5 1005.5h0M871.5 1004.5h0M871.5 1003.5h0M872.5 1002.5h0M872.5 1001.5h0M873.5 1002.5h0M873.5 1003.5h0M874.5 1003.5h0M874.5 1004.5h0M875.5 1005.5h0M875.5 1006.5h0M876.5 1006.5h0M876.5 1005.5h0M877.5 1005.5h0M878.5 1004.5h0M878.5 1003.5h0M879.5 1002.5h0M880.5 1002.5h0M878.5 1007.5h0M879.5 1007.5h0M879.5 1006.5h0M880.5 1005.5h0M880.5 1004.5h0M881.5 1004.5h0M881.5 1003.5h0M882.5 1002.5h0M883.5 1001.5h0M883.5 1000.5h0M884.5 1000.5h0M884.5 999.5h0M886.5 1006.5h0M886.5 1005.5h0M887.5 1004.5h0M888.5 1003.5h0M888.5 1002.5h0M889.5 1001.5h0M890.5 1001.5h0M891.5 1001.5h0M892.5 1000.5h0M893.5 1000.5h0M894.5 1000.5h0M895.5 1000.5h0M896.5 1000.5h0M896.5 1001.5h0M896.5 1002.5h0M896.5 1003.5h0M897.5 1004.5h0M897.5 1006.5h0M898.5 1005.5h0M899.5 1006.5h0M900.5 1006.5h0M901.5 1007.5h0M902.5 1002.5h0M903.5 1001.5h0M904.5 1001.5h0M905.5 1001.5h0M906.5 1001.5h0M907.5 1000.5h0M908.5 1000.5h0M909.5 1000.5h0M909.5 1001.5h0M910.5 1000.5h0M910.5 1001.5h0M911.5 1001.5h0M912.5 1001.5h0M913.5 1001.5h0M914.5 1002.5h0M915.5 1002.5h0M916.5 1002.5h0M916.5 1001.5h0M917.5 1000.5h0M918.5 1000.5h0M918.5 999.5h0M919.5 999.5h0M919.5 998.5h0M920.5 998.5h0M910.5 1002.5h0M911.5 1002.5h0M912.5 1002.5h0M912.5 1003.5h0M913.5 1003.5h0M913.5 1002.5h0M914.5 1003.5h0M915.5 1003.5h0M915.5 1004.5h0M916.5 1004.5h0M917.5 1004.5h0M918.5 1004.5h0M920.5 999.5h0M921.5 998.5h0M921.5 999.5h0M922.5 999.5h0M923.5 1000.5h0M924.5 1000.5h0M925.5 1001.5h0M926.5 1000.5h0M927.5 1001.5h0M927.5 1000.5h0M928.5 1001.5h0M929.5 1001.5h0M930.5 1001.5h0M931.5 1001.5h0M932.5 1001.5h0M933.5 1001.5h0M934.5 1001.5h0M935.5 1002.5h0M936.5 1001.5h0M937.5 1001.5h0M938.5 1002.5h0M939.5 1001.5h0M939.5 1002.5h0M940.5 1002.5h0M941.5 1003.5h0M942.5 1003.5h0M942.5 1002.5h0M943.5 1002.5h0M944.5 1003.5h0M945.5 1002.5h0M946.5 1002.5h0M947.5 1002.5h0M948.5 1002.5h0M948.5 1003.5h0M949.5 1003.5h0M950.5 1003.5h0M951.5 1003.5h0M951.5 1004.5h0M952.5 1004.5h0M953.5 1004.5h0M953.5 1005.5h0M954.5 1005.5h0M955.5 1004.5h0M956.5 1003.5h0M957.5 1003.5h0M958.5 1003.5h0M959.5 1003.5h0M959.5 1004.5h0M960.5 1004.5h0M960.5 1005.5h0M961.5 1005.5h0M962.5 1006.5h0M963.5 1006.5h0M964.5 1005.5h0M965.5 1004.5h0M966.5 1004.5h0M967.5 1005.5h0M967.5 1006.5h0M968.5 1006.5h0M968.5 1007.5h0M969.5 1006.5h0M970.5 1006.5h0M970.5 1005.5h0M971.5 1005.5h0M971.5 1004.5h0M972.5 1004.5h0M972.5 1003.5h0M973.5 1003.5h0M974.5 1003.5h0M975.5 1003.5h0M976.5 1004.5h0M977.5 1005.5h0M978.5 1004.5h0M978.5 1006.5h0M979.5 1005.5h0M980.5 1004.5h0M981.5 1003.5h0M981.5 1002.5h0M982.5 1002.5h0M983.5 1001.5h0M983.5 1000.5h0M984.5 999.5h0M985.5 999.5h0M985.5 998.5h0M986.5 997.5h0M987.5 997.5h0M988.5 997.5h0M989.5 997.5h0M990.5 998.5h0M989.5 999.5h0M989.5 1000.5h0M990.5 1001.5h0M990.5 1002.5h0M991.5 1002.5h0M991.5 1003.5h0M992.5 1004.5h0M992.5 1005.5h0M993.5 1006.5h0M994.5 1007.5h0M994.5 1008.5h0M995.5 1007.5h0M995.5 1006.5h0M996.5 1005.5h0M997.5 1005.5h0M998.5 1005.5h0M998.5 1006.5h0M999.5 1006.5h0M1000.5 1006.5h0M1001.5 1006.5h0M1002.5 1005.5h0M1003.5 1004.5h0M1003.5 1005.5h0M1004.5 1003.5h0M1005.5 1003.5h0M1006.5 1002.5h0M1007.5 1002.5h0M1008.5 1002.5h0M1008.5 1001.5h0M1009.5 1001.5h0M1010.5 1001.5h0M1010.5 1000.5h0M1011.5 999.5h0M1012.5 999.5h0M1013.5 1004.5h0M1013.5 1005.5h0M1014.5 1005.5h0M1015.5 1006.5h0M1016.5 1006.5h0M1017.5 1007.5h0M1018.5 1008.5h0M1019.5 1007.5h0M1019.5 1008.5h0M1020.5 1007.5h0M1021.5 1006.5h0M1022.5 1006.5h0M1022.5 1005.5h0M1023.5 1005.5h0M1023.5 1004.5h0M1024.5 1004.5h0M1024.5 1003.5h0M1025.5 1003.5h0M1025.5 1002.5h0M1026.5 1002.5h0M1027.5 1002.5h0M1027.5 1001.5h0M1028.5 1000.5h0M1028.5 1001.5h0M1029.5 1000.5h0M1030.5 999.5h0M1031.5 1000.5h0M1032.5 1000.5h0M1032.5 1001.5h0M1033.5 1001.5h0M1033.5 1002.5h0M1034.5 1003.5h0M1035.5 1003.5h0M1036.5 1004.5h0M1037.5 1004.5h0M1038.5 1005.5h0M1039.5 1004.5h0M1040.5 1004.5h0M1040.5 1003.5h0M1041.5 1003.5h0M1042.5 1002.5h0M1043.5 1001.5h0M1043.5 1002.5h0M1044.5 1002.5h0M1045.5 1002.5h0M1046.5 1003.5h0M1047.5 1002.5h0M1047.5 1003.5h0M1048.5 1003.5h0M1048.5 1004.5h0M1049.5 1004.5h0M1049.5 1005.5h0M1050.5 1005.5h0M1051.5 1001.5h0M1051.5 1002.5h0M1052.5 1002.5h0M1053.5 1002.5h0M1053.5 1003.5h0M1054.5 1004.5h0M1055.5 1004.5h0M1055.5 1005.5h0M1056.5 1005.5h0M1057.5 1006.5h0M1058.5 1006.5h0M1059.5 1005.5h0M1060.5 1005.5h0M1060.5 1004.5h0M1061.5 1003.5h0M1062.5 1002.5h0M1062.5 1003.5h0M1063.5 1003.5h0M1063.5 1004.5h0M1064.5 1004.5h0M1064.5 1005.5h0M1065.5 1005.5h0M1066.5 1006.5h0M1067.5 1006.5h0M1067.5 1005.5h0M1068.5 1005.5h0M1069.5 1004.5h0M1070.5 1004.5h0M1070.5 1000.5h0M1071.5 1001.5h0M1072.5 1001.5h0M1073.5 1001.5h0M1074.5 1001.5h0M1075.5 1002.5h0M1076.5 1002.5h0M1077.5 1002.5h0M1078.5 1001.5h0M1078.5 1002.5h0M1079.5 1001.5h0M1080.5 1001.5h0M1081.5 1001.5h0M1081.5 1000.5h0M1082.5 1001.5h0M1082.5 1000.5h0M1083.5 1000.5h0M1084.5 1007.5h0M1085.5 1006.5h0M1085.5 1007.5h0M1086.5 1007.5h0M1086.5 1006.5h0M1087.5 1006.5h0M1088.5 1006.5h0M1089.5 1006.5h0M1089.5 1005.5h0M1090.5 1005.5h0M1091.5 1005.5h0M1092.5 1005.5h0M1092.5 1004.5h0M1093.5 1004.5h0M1094.5 1004.5h0M1095.5 1004.5h0M1096.5 1004.5h0M1096.5 1003.5h0M1097.5 1003.5h0M1098.5 1003.5h0M1099.5 1003.5h0M1099.5 1002.5h0M1100.5 1003.5h0M1100.5 1002.5h0M1101.5 1002.5h0M1101.5 1001.5h0M1102.5 1001.5h0M1103.5 1001.5h0M1104.5 1000.5h0M1105.5 1000.5h0M1106.5 999.5h0M1107.5 999.5h0M1107.5 998.5h0M1108.5 998.5h0M1109.5 998.5h0M1110.5 997.5h0M1110.5 1008.5h0M1111.5 1007.5h0M1111.5 1006.5h0M1112.5 1006.5h0M1113.5 1005.5h0M1114.5 1004.5h0M1115.5 1004.5h0M1115.5 1003.5h0M1116.5 1003.5h0M1117.5 1002.5h0M1117.5 1001.5h0M1118.5 1001.5h0M1119.5 1000.5h0M1120.5 1000.5h0M1121.5 998.5h0M1122.5 998.5h0M1122.5 999.5h0M1123.5 1000.5h0M1124.5 1001.5h0M1124.5 1002.5h0M1125.5 1003.5h0M1126.5 1004.5h0M1126.5 1005.5h0M1127.5 1005.5h0M1128.5 1005.5h0M1129.5 1005.5h0M1130.5 1004.5h0M1131.5 1005.5h0M1132.5 1004.5h0M1133.5 1003.5h0M1133.5 1001.5h0M1134.5 1000.5h0M1135.5 1001.5h0M1135.5 1002.5h0M1135.5 1003.5h0M1136.5 1004.5h0M1137.5 1005.5h0M1137.5 1006.5h0M1138.5 1007.5h0M1138.5 1008.5h0M1139.5 1009.5h0M1140.5 1008.5h0M1140.5 1007.5h0M1140.5 1006.5h0M1141.5 1006.5h0M1141.5 1005.5h0M1141.5 1003.5h0M1142.5 1002.5h0M1142.5 1001.5h0M1143.5 1001.5h0M1144.5 1001.5h0M1145.5 1001.5h0M1146.5 1000.5h0M1149.5 1003.5h0M1150.5 1004.5h0M1151.5 1004.5h0M1152.5 1005.5h0M1152.5 1006.5h0M1153.5 1006.5h0M1154.5 1007.5h0M1155.5 1008.5h0M1156.5 1007.5h0M1156.5 1006.5h0M1157.5 1006.5h0M1158.5 1005.5h0M1158.5 1004.5h0M1159.5 1003.5h0M1160.5 1002.5h0M1161.5 1001.5h0M1161.5 1002.5h0M1162.5 1003.5h0M1163.5 1004.5h0M1164.5 1005.5h0M1165.5 1006.5h0M1166.5 1005.5h0M1167.5 1004.5h0M1168.5 1003.5h0M1168.5 1002.5h0M1169.5 1002.5h0M1170.5 1001.5h0M1171.5 1001.5h0M1171.5 1000.5h0M1172.5 1000.5h0M1173.5 999.5h0M1174.5 1004.5h0M1175.5 1004.5h0M1176.5 1004.5h0M1177.5 1004.5h0M1177.5 1003.5h0M1178.5 1003.5h0M1179.5 1002.5h0M1180.5 1002.5h0M1181.5 1002.5h0M1182.5 1002.5h0M1182.5 1000.5h0M1183.5 1000.5h0M1184.5 1000.5h0M1185.5 999.5h0M1186.5 999.5h0M1187.5 998.5h0M1188.5 998.5h0M1189.5 998.5h0M1190.5 998.5h0M1191.5 998.5h0M1192.5 999.5h0M1193.5 998.5h0M1194.5 998.5h0M1195.5 999.5h0M1195.5 998.5h0M1196.5 998.5h0M1197.5 998.5h0M1198.5 998.5h0M1199.5 999.5h0M1199.5 998.5h0M1200.5 999.5h0M1201.5 999.5h0M1201.5 1000.5h0M1202.5 999.5h0M1203.5 1000.5h0M1204.5 1001.5h0M1204.5 1000.5h0M1205.5 1001.5h0M1206.5 1001.5h0M1207.5 1001.5h0M1208.5 1001.5h0M1209.5 1001.5h0M1210.5 1001.5h0M1211.5 1001.5h0M1211.5 1000.5h0M1212.5 1000.5h0M1213.5 1000.5h0M1213.5 1001.5h0M1214.5 1001.5h0M1215.5 1002.5h0M1216.5 1003.5h0M1217.5 1004.5h0M1218.5 1005.5h0M1219.5 1006.5h0M1220.5 1007.5h0M1221.5 1008.5h0M1221.5 1007.5h0M1222.5 1006.5h0M1222.5 1005.5h0M1223.5 1005.5h0M1223.5 1004.5h0M1224.5 1003.5h0M1225.5 1003.5h0M1225.5 1002.5h0M1226.5 1002.5h0M1226.5 1003.5h0M1227.5 1003.5h0M1227.5 1004.5h0M1228.5 1004.5h0M1229.5 1004.5h0M1230.5 1005.5h0M1231.5 1005.5h0M1231.5 1006.5h0M1232.5 1006.5h0M1232.5 1007.5h0M1233.5 1007.5h0M1234.5 1008.5h0M1235.5 1007.5h0M1236.5 1006.5h0M1237.5 1005.5h0M1237.5 1004.5h0M1238.5 1005.5h0M1238.5 1004.5h0M1239.5 1004.5h0M1239.5 1003.5h0M1240.5 1003.5h0M1240.5 1001.5h0M1241.5 1002.5h0M1241.5 1001.5h0M1242.5 1001.5h0M1243.5 1000.5h0M1244.5 1000.5h0M1245.5 1000.5h0M1199.5 1006.5h0M1199.5 1005.5h0M1246.5 1003.5h0M1247.5 1003.5h0M1248.5 1003.5h0M1249.5 1003.5h0M1250.5 1002.5h0M1251.5 1001.5h0M1251.5 1002.5h0M1252.5 1002.5h0M1252.5 1003.5h0M1252.5 1004.5h0M1253.5 1005.5h0M1254.5 1005.5h0M1254.5 1004.5h0M1255.5 1004.5h0M1256.5 1003.5h0M1257.5 1002.5h0M1257.5 1001.5h0M1258.5 1002.5h0M1259.5 1001.5h0M1259.5 1000.5h0M1260.5 1000.5h0M1261.5 999.5h0M1262.5 1000.5h0M1262.5 999.5h0M1263.5 999.5h0M1264.5 999.5h0M1265.5 998.5h0M1265.5 1007.5h0M1266.5 1006.5h0M1267.5 1006.5h0M1268.5 1006.5h0M1269.5 1006.5h0M1269.5 1001.5h0M1269.5 1002.5h0M1270.5 1002.5h0M1270.5 1001.5h0M1271.5 1003.5h0M1272.5 1003.5h0M1273.5 1003.5h0M1273.5 1004.5h0M1274.5 1005.5h0M1274.5 1004.5h0M1275.5 1005.5h0M1276.5 1006.5h0M1277.5 1005.5h0M1278.5 1006.5h0M1278.5 1005.5h0M1279.5 1006.5h0M1280.5 1005.5h0M1281.5 1005.5h0M1282.5 1005.5h0M1283.5 1005.5h0M1284.5 1005.5h0M1285.5 998.5h0M1285.5 999.5h0M1286.5 999.5h0M1286.5 1000.5h0M1287.5 1000.5h0M1288.5 1000.5h0M1289.5 1000.5h0M1289.5 1001.5h0M1290.5 1001.5h0M1290.5 1002.5h0M1291.5 1002.5h0M1292.5 1003.5h0M1293.5 1003.5h0M1293.5 1004.5h0M1294.5 1004.5h0M1295.5 1005.5h0M1296.5 1005.5h0M1297.5 1006.5h0M1298.5 1007.5h0M1299.5 1007.5h0M1299.5 1008.5h0M1300.5 1008.5h0M1301.5 1008.5h0M1302.5 1009.5h0M1302.5 1008.5h0M1303.5 998.5h0M1304.5 998.5h0" stroke="#000" stroke-width="2.9" stroke-linecap="round" fill="none"/>
<path d="M162.5 955.5l2.3 4.3h-4.6zM163.0 955.5l2.3 4.3h-4.6zM163.6 955.5l2.3 4.3h-4.6zM164.1 955.5l2.3 4.3h-4.6zM164.7 955.5l2.3 4.3h-4.6zM165.2 955.5l2.3 4.3h-4.6zM165.8 955.5l2.3 4.3h-4.6zM166.3 955.5l2.3 4.3h-4.6zM166.8 955.5l2.3 4.3h-4.6zM167.4 955.5l2.3 4.3h-4.6zM167.9 955.5l2.3 4.3h-4.6zM168.5 955.5l2.3 4.3h-4.6zM169.0 955.5l2.3 4.3h-4.6zM169.6 955.5l2.3 4.3h-4.6zM170.1 955.5l2.3 4.3h-4.6zM170.7 955.5l2.3 4.3h-4.6zM171.2 955.5l2.3 4.3h-4.6zM171.7 955.5l2.3 4.3h-4.6zM172.3 955.5l2.3 4.3h-4.6zM172.8 955.5l2.3 4.3h-4.6zM173.4 955.5l2.3 4.3h-4.6zM173.9 955.5l2.3 4.3h-4.6zM174.5 955.5l2.3 4.3h-4.6zM175.0 955.5l2.3 4.3h-4.6zM175.5 955.5l2.3 4.3h-4.6zM176.1 955.5l2.3 4.3h-4.6zM176.6 955.5l2.3 4.3h-4.6zM177.2 955.5l2.3 4.3h-4.6zM177.7 955.5l2.3 4.3h-4.6zM178.3 955.5l2.3 4.3h-4.6zM178.8 955.5l2.3 4.3h-4.6zM179.4 955.5l2.3 4.3h-4.6zM179.9 955.5l2.3 4.3h-4.6zM180.4 955.5l2.3 4.3h-4.6zM181.0 955.5l2.3 4.3h-4.6zM181.5 955.5l2.3 4.3h-4.6zM182.1 955.5l2.3 4.3h-4.6zM182.6 955.5l2.3 4.3h-4.6zM515.5 955.5l2.3 4.3h-4.6zM516.0 955.5l2.3 4.3h-4.6zM516.6 955.5l2.3 4.3h-4.6zM517.1 955.5l2.3 4.3h-4.6zM517.7 955.5l2.3 4.3h-4.6zM518.2 955.5l2.3 4.3h-4.6zM518.8 955.5l2.3 4.3h-4.6zM519.3 955.5l2.3 4.3h-4.6zM519.8 955.5l2.3 4.3h-4.6zM520.4 955.5l2.3 4.3h-4.6zM520.9 955.5l2.3 4.3h-4.6zM521.5 955.5l2.3 4.3h-4.6zM522.0 955.5l2.3 4.3h-4.6zM522.6 955.5l2.3 4.3h-4.6zM523.1 955.5l2.3 4.3h-4.6zM523.7 955.5l2.3 4.3h-4.6zM524.2 955.5l2.3 4.3h-4.6zM524.7 955.5l2.3 4.3h-4.6zM525.3 955.5l2.3 4.3h-4.6zM525.8 955.5l2.3 4.3h-4.6zM526.4 955.5l2.3 4.3h-4.6zM526.9 955.5l2.3 4.3h-4.6zM527.5 955.5l2.3 4.3h-4.6zM528.0 955.5l2.3 4.3h-4.6zM528.5 955.5l2.3 4.3h-4.6zM529.1 955.5l2.3 4.3h-4.6zM529.6 955.5l2.3 4.3h-4.6zM530.2 955.5l2.3 4.3h-4.6zM530.7 955.5l2.3 4.3h-4.6zM531.3 955.5l2.3 4.3h-4.6zM531.8 955.5l2.3 4.3h-4.6zM532.4 955.5l2.3 4.3h-4.6zM532.9 955.5l2.3 4.3h-4.6zM533.4 955.5l2.3 4.3h-4.6zM534.0 955.5l2.3 4.3h-4.6zM534.5 955.5l2.3 4.3h-4.6zM535.1 955.5l2.3 4.3h-4.6zM535.6 955.5l2.3 4.3h-4.6zM536.2 955.5l2.3 4.3h-4.6zM536.7 955.5l2.3 4.3h-4.6zM537.2 955.5l2.3 4.3h-4.6zM537.8 955.5l2.3 4.3h-4.6zM538.3 955.5l2.3 4.3h-4.6zM538.9 955.5l2.3 4.3h-4.6zM539.4 955.5l2.3 4.3h-4.6zM540.0 955.5l2.3 4.3h-4.6zM540.5 955.5l2.3 4.3h-4.6zM541.1 955.5l2.3 4.3h-4.6zM541.6 955.5l2.3 4.3h-4.6zM542.1 955.5l2.3 4.3h-4.6zM542.7 955.5l2.3 4.3h-4.6zM543.2 955.5l2.3 4.3h-4.6zM543.8 955.5l2.3 4.3h-4.6zM544.3 955.5l2.3 4.3h-4.6zM815.5 955.5l2.3 4.3h-4.6z" fill="#f00"/>
<path d="M105.5 957.5H1485.5" stroke="#b0b0b0" stroke-width="1.11" fill="none" stroke-dasharray="1.11 1.83"/>
<path d="M105.5 983.5H1485.5" stroke="#b0b0b0" stroke-width="1.11" fill="none" stroke-dasharray="1.11 1.83"/>
<path d="M105.5 1009.5H1485.5" stroke="#b0b0b0" stroke-width="1.11" fill="none" stroke-dasharray="1.11 1.83"/>
<path d="M162 1011.05V954.5" stroke="#800080" stroke-width="2.08" fill="none" stroke-dasharray="2.08 3.44"/>
<path d="M515 1011.05V954.5" stroke="#800080" stroke-width="2.08" fill="none" stroke-dasharray="2.08 3.44"/>
<path d="M1303 1011.05V954.5" stroke="#800080" stroke-width="2.08" fill="none" stroke-dasharray="2.08 3.44"/>
</g>
<rect x="105.5" y="725.5" width="1380" height="229" fill="none" stroke="#000" stroke-width="1"/>
<rect x="105.5" y="954.5" width="1380" height="57" fill="none" stroke="#000" stroke-width="1"/>
<path d="M105.5 916.5h-4.9M105.5 878.5h-4.9M105.5 840.5h-4.9M105.5 802.5h-4.9M105.5 763.5h-4.9" stroke="#000" stroke-width="1" fill="none"/>
<text x="95.38" y="921" text-anchor="end">OBS not OK</text>
<text x="95.38" y="883" text-anchor="end">dr &gt; 5</text>
<text x="95.38" y="845" text-anchor="end">Ion. rad.</text>
<text x="95.38" y="807" text-anchor="end">not track</text>
<text x="95.38" y="769" text-anchor="end">not Kalman</text>
<path d="M105.5 1009.5h-4.9M105.5 983.5h-4.9M105.5 957.5h-4.9M105.5 970.5h-2.8M105.5 996.5h-2.8" stroke="#000" stroke-width="1" fill="none"/>
<text x="96.78" y="1014" text-anchor="end">0</text>
<text x="95.78" y="988" text-anchor="end">5</text>
<text x="78.3" y="962" letter-spacing="-1">10</text>
<path d="M162.5 1011.5v4.9M428.5 1011.5v4.9M693.5 1011.5v4.9M958.5 1011.5v4.9M1223.5 1011.5v4.9" stroke="#000" stroke-width="1" fill="none"/>
<text x="163.3" y="1032" text-anchor="middle">0</text>
<text x="426.85" y="1032" text-anchor="middle">500</text>
<text x="693.4" y="1032" text-anchor="middle">1000</text>
<text x="958.5" y="1032" text-anchor="middle">1500</text>
<text x="1223.55" y="1032" text-anchor="middle">2000</text>
<text x="68.66" y="990.6" letter-spacing="-0.9" transform="rotate(-90 68.66 990.6)">dr</text>
</svg>
</body>
</html>
